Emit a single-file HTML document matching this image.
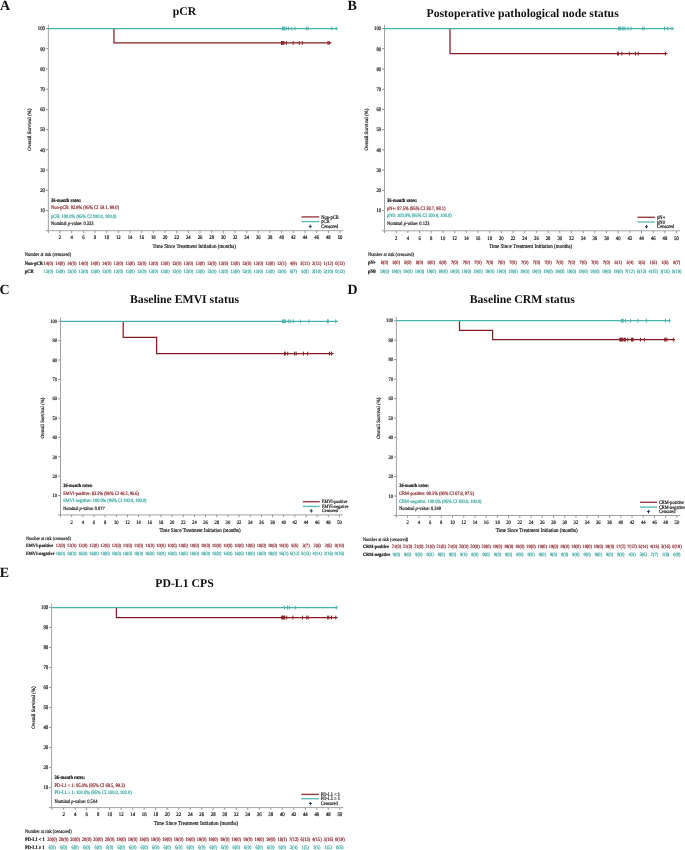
<!DOCTYPE html>
<html><head><meta charset="utf-8"><title>Overall survival</title>
<style>
html,body{margin:0;padding:0;background:#fff;}
body{width:685px;height:850px;overflow:hidden;}
svg{display:block;will-change:transform;}
svg text{font-family:"Liberation Serif", serif;text-rendering:geometricPrecision;}
</style></head>
<body>
<svg width="685" height="850" viewBox="0 0 685 850">
<rect width="685" height="850" fill="#fff"/>
<text x="0" y="9.6" font-size="14" text-anchor="start" font-weight="bold" fill="#111111" stroke="#111111" stroke-width="0">A</text>
<text x="184.6" y="15.2" font-size="11.75" text-anchor="middle" font-weight="bold" fill="#111111" stroke="#111111" stroke-width="0">pCR</text>
<path d="M48.35 24.7V230.7H343.4" fill="none" stroke="#9fa3a7" stroke-width="1"/>
<text transform="translate(44.95 212.27) scale(0.87 1)" font-size="5.43" text-anchor="end" fill="#111111" stroke="#111111" stroke-width="0.18">10</text>
<text transform="translate(44.95 192.05) scale(0.87 1)" font-size="5.43" text-anchor="end" fill="#111111" stroke="#111111" stroke-width="0.18">20</text>
<text transform="translate(44.95 171.83) scale(0.87 1)" font-size="5.43" text-anchor="end" fill="#111111" stroke="#111111" stroke-width="0.18">30</text>
<text transform="translate(44.95 151.61) scale(0.87 1)" font-size="5.43" text-anchor="end" fill="#111111" stroke="#111111" stroke-width="0.18">40</text>
<text transform="translate(44.95 131.39) scale(0.87 1)" font-size="5.43" text-anchor="end" fill="#111111" stroke="#111111" stroke-width="0.18">50</text>
<text transform="translate(44.95 111.17) scale(0.87 1)" font-size="5.43" text-anchor="end" fill="#111111" stroke="#111111" stroke-width="0.18">60</text>
<text transform="translate(44.95 90.95) scale(0.87 1)" font-size="5.43" text-anchor="end" fill="#111111" stroke="#111111" stroke-width="0.18">70</text>
<text transform="translate(44.95 70.73) scale(0.87 1)" font-size="5.43" text-anchor="end" fill="#111111" stroke="#111111" stroke-width="0.18">80</text>
<text transform="translate(44.95 50.51) scale(0.87 1)" font-size="5.43" text-anchor="end" fill="#111111" stroke="#111111" stroke-width="0.18">90</text>
<text transform="translate(44.95 30.29) scale(0.87 1)" font-size="5.43" text-anchor="end" fill="#111111" stroke="#111111" stroke-width="0.18">100</text>
<text transform="translate(60.02 239.49) scale(0.87 1)" font-size="5.43" text-anchor="middle" fill="#111111" stroke="#111111" stroke-width="0.18">2</text>
<text transform="translate(71.68 239.49) scale(0.87 1)" font-size="5.43" text-anchor="middle" fill="#111111" stroke="#111111" stroke-width="0.18">4</text>
<text transform="translate(83.35 239.49) scale(0.87 1)" font-size="5.43" text-anchor="middle" fill="#111111" stroke="#111111" stroke-width="0.18">6</text>
<text transform="translate(95.01 239.49) scale(0.87 1)" font-size="5.43" text-anchor="middle" fill="#111111" stroke="#111111" stroke-width="0.18">8</text>
<text transform="translate(106.68 239.49) scale(0.87 1)" font-size="5.43" text-anchor="middle" fill="#111111" stroke="#111111" stroke-width="0.18">10</text>
<text transform="translate(118.35 239.49) scale(0.87 1)" font-size="5.43" text-anchor="middle" fill="#111111" stroke="#111111" stroke-width="0.18">12</text>
<text transform="translate(130.01 239.49) scale(0.87 1)" font-size="5.43" text-anchor="middle" fill="#111111" stroke="#111111" stroke-width="0.18">14</text>
<text transform="translate(141.68 239.49) scale(0.87 1)" font-size="5.43" text-anchor="middle" fill="#111111" stroke="#111111" stroke-width="0.18">16</text>
<text transform="translate(153.34 239.49) scale(0.87 1)" font-size="5.43" text-anchor="middle" fill="#111111" stroke="#111111" stroke-width="0.18">18</text>
<text transform="translate(165.01 239.49) scale(0.87 1)" font-size="5.43" text-anchor="middle" fill="#111111" stroke="#111111" stroke-width="0.18">20</text>
<text transform="translate(176.68 239.49) scale(0.87 1)" font-size="5.43" text-anchor="middle" fill="#111111" stroke="#111111" stroke-width="0.18">22</text>
<text transform="translate(188.34 239.49) scale(0.87 1)" font-size="5.43" text-anchor="middle" fill="#111111" stroke="#111111" stroke-width="0.18">24</text>
<text transform="translate(200.01 239.49) scale(0.87 1)" font-size="5.43" text-anchor="middle" fill="#111111" stroke="#111111" stroke-width="0.18">26</text>
<text transform="translate(211.67 239.49) scale(0.87 1)" font-size="5.43" text-anchor="middle" fill="#111111" stroke="#111111" stroke-width="0.18">28</text>
<text transform="translate(223.34 239.49) scale(0.87 1)" font-size="5.43" text-anchor="middle" fill="#111111" stroke="#111111" stroke-width="0.18">30</text>
<text transform="translate(235.01 239.49) scale(0.87 1)" font-size="5.43" text-anchor="middle" fill="#111111" stroke="#111111" stroke-width="0.18">32</text>
<text transform="translate(246.67 239.49) scale(0.87 1)" font-size="5.43" text-anchor="middle" fill="#111111" stroke="#111111" stroke-width="0.18">34</text>
<text transform="translate(258.34 239.49) scale(0.87 1)" font-size="5.43" text-anchor="middle" fill="#111111" stroke="#111111" stroke-width="0.18">36</text>
<text transform="translate(270 239.49) scale(0.87 1)" font-size="5.43" text-anchor="middle" fill="#111111" stroke="#111111" stroke-width="0.18">38</text>
<text transform="translate(281.67 239.49) scale(0.87 1)" font-size="5.43" text-anchor="middle" fill="#111111" stroke="#111111" stroke-width="0.18">40</text>
<text transform="translate(293.34 239.49) scale(0.87 1)" font-size="5.43" text-anchor="middle" fill="#111111" stroke="#111111" stroke-width="0.18">42</text>
<text transform="translate(305 239.49) scale(0.87 1)" font-size="5.43" text-anchor="middle" fill="#111111" stroke="#111111" stroke-width="0.18">44</text>
<text transform="translate(316.67 239.49) scale(0.87 1)" font-size="5.43" text-anchor="middle" fill="#111111" stroke="#111111" stroke-width="0.18">46</text>
<text transform="translate(328.33 239.49) scale(0.87 1)" font-size="5.43" text-anchor="middle" fill="#111111" stroke="#111111" stroke-width="0.18">48</text>
<text transform="translate(340 239.49) scale(0.87 1)" font-size="5.43" text-anchor="middle" fill="#111111" stroke="#111111" stroke-width="0.18">50</text>
<path d="M45.85 230.7H48.35M45.85 210.48H48.35M45.85 190.26H48.35M45.85 170.04H48.35M45.85 149.82H48.35M45.85 129.6H48.35M45.85 109.38H48.35M45.85 89.16H48.35M45.85 68.94H48.35M45.85 48.72H48.35M45.85 28.5H48.35M48.35 230.7V233M60.02 230.7V233M71.68 230.7V233M83.35 230.7V233M95.01 230.7V233M106.68 230.7V233M118.35 230.7V233M130.01 230.7V233M141.68 230.7V233M153.34 230.7V233M165.01 230.7V233M176.68 230.7V233M188.34 230.7V233M200.01 230.7V233M211.67 230.7V233M223.34 230.7V233M235.01 230.7V233M246.67 230.7V233M258.34 230.7V233M270 230.7V233M281.67 230.7V233M293.34 230.7V233M305 230.7V233M316.67 230.7V233M328.33 230.7V233M340 230.7V233" stroke="#92969b" stroke-width="1" fill="none"/>
<text transform="translate(194.18 247.71) scale(0.87 1)" font-size="5.78" text-anchor="middle" fill="#111111" stroke="#111111" stroke-width="0.18">Time Since Treatment Initiation (months)</text>
<text x="29.85" y="131.26" font-size="5.02" text-anchor="middle" fill="#111111" stroke="#111111" stroke-width="0.18" transform="rotate(-90 29.85 129.6)">Overall Survival (%)</text>
<path d="M113.95 29.1H113.95V42.94H331.4" fill="none" stroke="#861d23" stroke-width="1.25"/>
<path d="M281.5 41.04V44.84M282.3 41.04V44.84M283.1 41.04V44.84M284 41.04V44.84M286.4 41.04V44.84M293.2 41.04V44.84M299.3 41.04V44.84M302.3 41.04V44.84M328 41.04V44.84M329.2 41.04V44.84" stroke="#861d23" stroke-width="1.0" fill="none"/>
<path d="M48.35 28.5H337.9" fill="none" stroke="#47b2ad" stroke-width="1.25"/>
<path d="M282.4 26.6V30.4M283.1 26.6V30.4M284 26.6V30.4M284.8 26.6V30.4M286.4 26.6V30.4M288.6 26.6V30.4M291.9 26.6V30.4M295 26.6V30.4M306.4 26.6V30.4M308.1 26.6V30.4M331.9 26.6V30.4M336.2 26.6V30.4" stroke="#47b2ad" stroke-width="1.0" fill="none"/>
<text transform="translate(51 201.5) scale(0.87 1)" font-size="5.14" text-anchor="start" font-weight="bold" fill="#111111" stroke="#111111" stroke-width="0.18">36-month rates:</text>
<text transform="translate(51 209.3) scale(0.87 1)" font-size="5.14" text-anchor="start" fill="#861d23" stroke="#861d23" stroke-width="0.18">Non-pCR: 92.9% (95% CI 59.1, 99.0)</text>
<text transform="translate(51 217.7) scale(0.87 1)" font-size="5.14" text-anchor="start" fill="#2fa39e" stroke="#2fa39e" stroke-width="0.18">pCR: 100.0% (95% CI 100.0, 100.0)</text>
<text transform="translate(51 225.3) scale(0.87 1)" font-size="5.14" text-anchor="start" fill="#111111" stroke="#111111" stroke-width="0.18">Nominal <tspan font-style="italic">p</tspan>-value: 0.333</text>
<path d="M301.5 216.9H319.3" stroke="#861d23" stroke-width="1.4" stroke-opacity="0.85"/>
<path d="M301.5 221.6H319.3" stroke="#47b2ad" stroke-width="1.4" stroke-opacity="0.85"/>
<path d="M308.8 226.4H311.8M310.3 224.7V228.1" stroke="#1f3b6b" stroke-width="1.0"/>
<text transform="translate(321.2 218.63) scale(0.87 1)" font-size="5.23" text-anchor="start" fill="#111111" stroke="#111111" stroke-width="0.18">Non-pCR</text>
<text transform="translate(321.2 223.33) scale(0.87 1)" font-size="5.23" text-anchor="start" fill="#111111" stroke="#111111" stroke-width="0.18">pCR</text>
<text transform="translate(321.2 228.13) scale(0.87 1)" font-size="5.23" text-anchor="start" fill="#111111" stroke="#111111" stroke-width="0.18">Censored</text>
<text transform="translate(24.8 256.48) scale(0.87 1)" font-size="5.09" text-anchor="start" fill="#111111" stroke="#111111" stroke-width="0.16">Number at risk (censored)</text>
<text transform="translate(24.8 264.68) scale(0.87 1)" font-size="5.09" text-anchor="start" font-weight="bold" fill="#111111" stroke="#111111" stroke-width="0.18">Non-pCR</text>
<text transform="translate(24.8 272.68) scale(0.87 1)" font-size="5.09" text-anchor="start" font-weight="bold" fill="#111111" stroke="#111111" stroke-width="0.18">pCR</text>
<text transform="translate(48.35 264.68) scale(0.87 1)" font-size="5.09" text-anchor="middle" fill="#861d23" stroke="#861d23" stroke-width="0.18">14(0)</text>
<text transform="translate(48.35 272.68) scale(0.87 1)" font-size="5.09" text-anchor="middle" fill="#2fa39e" stroke="#2fa39e" stroke-width="0.18">13(0)</text>
<text transform="translate(60.02 264.68) scale(0.87 1)" font-size="5.09" text-anchor="middle" fill="#861d23" stroke="#861d23" stroke-width="0.18">14(0)</text>
<text transform="translate(60.02 272.68) scale(0.87 1)" font-size="5.09" text-anchor="middle" fill="#2fa39e" stroke="#2fa39e" stroke-width="0.18">13(0)</text>
<text transform="translate(71.68 264.68) scale(0.87 1)" font-size="5.09" text-anchor="middle" fill="#861d23" stroke="#861d23" stroke-width="0.18">14(0)</text>
<text transform="translate(71.68 272.68) scale(0.87 1)" font-size="5.09" text-anchor="middle" fill="#2fa39e" stroke="#2fa39e" stroke-width="0.18">13(0)</text>
<text transform="translate(83.35 264.68) scale(0.87 1)" font-size="5.09" text-anchor="middle" fill="#861d23" stroke="#861d23" stroke-width="0.18">14(0)</text>
<text transform="translate(83.35 272.68) scale(0.87 1)" font-size="5.09" text-anchor="middle" fill="#2fa39e" stroke="#2fa39e" stroke-width="0.18">13(0)</text>
<text transform="translate(95.01 264.68) scale(0.87 1)" font-size="5.09" text-anchor="middle" fill="#861d23" stroke="#861d23" stroke-width="0.18">14(0)</text>
<text transform="translate(95.01 272.68) scale(0.87 1)" font-size="5.09" text-anchor="middle" fill="#2fa39e" stroke="#2fa39e" stroke-width="0.18">13(0)</text>
<text transform="translate(106.68 264.68) scale(0.87 1)" font-size="5.09" text-anchor="middle" fill="#861d23" stroke="#861d23" stroke-width="0.18">14(0)</text>
<text transform="translate(106.68 272.68) scale(0.87 1)" font-size="5.09" text-anchor="middle" fill="#2fa39e" stroke="#2fa39e" stroke-width="0.18">13(0)</text>
<text transform="translate(118.35 264.68) scale(0.87 1)" font-size="5.09" text-anchor="middle" fill="#861d23" stroke="#861d23" stroke-width="0.18">13(0)</text>
<text transform="translate(118.35 272.68) scale(0.87 1)" font-size="5.09" text-anchor="middle" fill="#2fa39e" stroke="#2fa39e" stroke-width="0.18">13(0)</text>
<text transform="translate(130.01 264.68) scale(0.87 1)" font-size="5.09" text-anchor="middle" fill="#861d23" stroke="#861d23" stroke-width="0.18">13(0)</text>
<text transform="translate(130.01 272.68) scale(0.87 1)" font-size="5.09" text-anchor="middle" fill="#2fa39e" stroke="#2fa39e" stroke-width="0.18">13(0)</text>
<text transform="translate(141.68 264.68) scale(0.87 1)" font-size="5.09" text-anchor="middle" fill="#861d23" stroke="#861d23" stroke-width="0.18">13(0)</text>
<text transform="translate(141.68 272.68) scale(0.87 1)" font-size="5.09" text-anchor="middle" fill="#2fa39e" stroke="#2fa39e" stroke-width="0.18">13(0)</text>
<text transform="translate(153.34 264.68) scale(0.87 1)" font-size="5.09" text-anchor="middle" fill="#861d23" stroke="#861d23" stroke-width="0.18">13(0)</text>
<text transform="translate(153.34 272.68) scale(0.87 1)" font-size="5.09" text-anchor="middle" fill="#2fa39e" stroke="#2fa39e" stroke-width="0.18">13(0)</text>
<text transform="translate(165.01 264.68) scale(0.87 1)" font-size="5.09" text-anchor="middle" fill="#861d23" stroke="#861d23" stroke-width="0.18">13(0)</text>
<text transform="translate(165.01 272.68) scale(0.87 1)" font-size="5.09" text-anchor="middle" fill="#2fa39e" stroke="#2fa39e" stroke-width="0.18">13(0)</text>
<text transform="translate(176.68 264.68) scale(0.87 1)" font-size="5.09" text-anchor="middle" fill="#861d23" stroke="#861d23" stroke-width="0.18">13(0)</text>
<text transform="translate(176.68 272.68) scale(0.87 1)" font-size="5.09" text-anchor="middle" fill="#2fa39e" stroke="#2fa39e" stroke-width="0.18">13(0)</text>
<text transform="translate(188.34 264.68) scale(0.87 1)" font-size="5.09" text-anchor="middle" fill="#861d23" stroke="#861d23" stroke-width="0.18">13(0)</text>
<text transform="translate(188.34 272.68) scale(0.87 1)" font-size="5.09" text-anchor="middle" fill="#2fa39e" stroke="#2fa39e" stroke-width="0.18">13(0)</text>
<text transform="translate(200.01 264.68) scale(0.87 1)" font-size="5.09" text-anchor="middle" fill="#861d23" stroke="#861d23" stroke-width="0.18">13(0)</text>
<text transform="translate(200.01 272.68) scale(0.87 1)" font-size="5.09" text-anchor="middle" fill="#2fa39e" stroke="#2fa39e" stroke-width="0.18">13(0)</text>
<text transform="translate(211.67 264.68) scale(0.87 1)" font-size="5.09" text-anchor="middle" fill="#861d23" stroke="#861d23" stroke-width="0.18">13(0)</text>
<text transform="translate(211.67 272.68) scale(0.87 1)" font-size="5.09" text-anchor="middle" fill="#2fa39e" stroke="#2fa39e" stroke-width="0.18">13(0)</text>
<text transform="translate(223.34 264.68) scale(0.87 1)" font-size="5.09" text-anchor="middle" fill="#861d23" stroke="#861d23" stroke-width="0.18">13(0)</text>
<text transform="translate(223.34 272.68) scale(0.87 1)" font-size="5.09" text-anchor="middle" fill="#2fa39e" stroke="#2fa39e" stroke-width="0.18">13(0)</text>
<text transform="translate(235.01 264.68) scale(0.87 1)" font-size="5.09" text-anchor="middle" fill="#861d23" stroke="#861d23" stroke-width="0.18">13(0)</text>
<text transform="translate(235.01 272.68) scale(0.87 1)" font-size="5.09" text-anchor="middle" fill="#2fa39e" stroke="#2fa39e" stroke-width="0.18">13(0)</text>
<text transform="translate(246.67 264.68) scale(0.87 1)" font-size="5.09" text-anchor="middle" fill="#861d23" stroke="#861d23" stroke-width="0.18">13(0)</text>
<text transform="translate(246.67 272.68) scale(0.87 1)" font-size="5.09" text-anchor="middle" fill="#2fa39e" stroke="#2fa39e" stroke-width="0.18">13(0)</text>
<text transform="translate(258.34 264.68) scale(0.87 1)" font-size="5.09" text-anchor="middle" fill="#861d23" stroke="#861d23" stroke-width="0.18">13(0)</text>
<text transform="translate(258.34 272.68) scale(0.87 1)" font-size="5.09" text-anchor="middle" fill="#2fa39e" stroke="#2fa39e" stroke-width="0.18">13(0)</text>
<text transform="translate(270 264.68) scale(0.87 1)" font-size="5.09" text-anchor="middle" fill="#861d23" stroke="#861d23" stroke-width="0.18">13(0)</text>
<text transform="translate(270 272.68) scale(0.87 1)" font-size="5.09" text-anchor="middle" fill="#2fa39e" stroke="#2fa39e" stroke-width="0.18">13(0)</text>
<text transform="translate(281.67 264.68) scale(0.87 1)" font-size="5.09" text-anchor="middle" fill="#861d23" stroke="#861d23" stroke-width="0.18">12(1)</text>
<text transform="translate(281.67 272.68) scale(0.87 1)" font-size="5.09" text-anchor="middle" fill="#2fa39e" stroke="#2fa39e" stroke-width="0.18">13(0)</text>
<text transform="translate(293.34 264.68) scale(0.87 1)" font-size="5.09" text-anchor="middle" fill="#861d23" stroke="#861d23" stroke-width="0.18">4(9)</text>
<text transform="translate(293.34 272.68) scale(0.87 1)" font-size="5.09" text-anchor="middle" fill="#2fa39e" stroke="#2fa39e" stroke-width="0.18">6(7)</text>
<text transform="translate(305 264.68) scale(0.87 1)" font-size="5.09" text-anchor="middle" fill="#861d23" stroke="#861d23" stroke-width="0.18">3(11)</text>
<text transform="translate(305 272.68) scale(0.87 1)" font-size="5.09" text-anchor="middle" fill="#2fa39e" stroke="#2fa39e" stroke-width="0.18">5(8)</text>
<text transform="translate(316.67 264.68) scale(0.87 1)" font-size="5.09" text-anchor="middle" fill="#861d23" stroke="#861d23" stroke-width="0.18">2(11)</text>
<text transform="translate(316.67 272.68) scale(0.87 1)" font-size="5.09" text-anchor="middle" fill="#2fa39e" stroke="#2fa39e" stroke-width="0.18">3(10)</text>
<text transform="translate(328.33 264.68) scale(0.87 1)" font-size="5.09" text-anchor="middle" fill="#861d23" stroke="#861d23" stroke-width="0.18">1(12)</text>
<text transform="translate(328.33 272.68) scale(0.87 1)" font-size="5.09" text-anchor="middle" fill="#2fa39e" stroke="#2fa39e" stroke-width="0.18">3(10)</text>
<text transform="translate(340 264.68) scale(0.87 1)" font-size="5.09" text-anchor="middle" fill="#861d23" stroke="#861d23" stroke-width="0.18">0(13)</text>
<text transform="translate(340 272.68) scale(0.87 1)" font-size="5.09" text-anchor="middle" fill="#2fa39e" stroke="#2fa39e" stroke-width="0.18">0(13)</text>
<text x="347.6" y="9.6" font-size="14" text-anchor="start" font-weight="bold" fill="#111111" stroke="#111111" stroke-width="0">B</text>
<text x="522.6" y="17" font-size="11.75" text-anchor="middle" font-weight="bold" fill="#111111" stroke="#111111" stroke-width="0">Postoperative pathological node status</text>
<path d="M384.5 24.7V230.8H680" fill="none" stroke="#9fa3a7" stroke-width="1"/>
<text transform="translate(381.1 212.35) scale(0.87 1)" font-size="5.4" text-anchor="end" fill="#111111" stroke="#111111" stroke-width="0.18">10</text>
<text transform="translate(381.1 192.12) scale(0.87 1)" font-size="5.4" text-anchor="end" fill="#111111" stroke="#111111" stroke-width="0.18">20</text>
<text transform="translate(381.1 171.89) scale(0.87 1)" font-size="5.4" text-anchor="end" fill="#111111" stroke="#111111" stroke-width="0.18">30</text>
<text transform="translate(381.1 151.66) scale(0.87 1)" font-size="5.4" text-anchor="end" fill="#111111" stroke="#111111" stroke-width="0.18">40</text>
<text transform="translate(381.1 131.43) scale(0.87 1)" font-size="5.4" text-anchor="end" fill="#111111" stroke="#111111" stroke-width="0.18">50</text>
<text transform="translate(381.1 111.2) scale(0.87 1)" font-size="5.4" text-anchor="end" fill="#111111" stroke="#111111" stroke-width="0.18">60</text>
<text transform="translate(381.1 90.97) scale(0.87 1)" font-size="5.4" text-anchor="end" fill="#111111" stroke="#111111" stroke-width="0.18">70</text>
<text transform="translate(381.1 70.74) scale(0.87 1)" font-size="5.4" text-anchor="end" fill="#111111" stroke="#111111" stroke-width="0.18">80</text>
<text transform="translate(381.1 50.51) scale(0.87 1)" font-size="5.4" text-anchor="end" fill="#111111" stroke="#111111" stroke-width="0.18">90</text>
<text transform="translate(381.1 30.28) scale(0.87 1)" font-size="5.4" text-anchor="end" fill="#111111" stroke="#111111" stroke-width="0.18">100</text>
<text transform="translate(396.18 239.58) scale(0.87 1)" font-size="5.4" text-anchor="middle" fill="#111111" stroke="#111111" stroke-width="0.18">2</text>
<text transform="translate(407.87 239.58) scale(0.87 1)" font-size="5.4" text-anchor="middle" fill="#111111" stroke="#111111" stroke-width="0.18">4</text>
<text transform="translate(419.55 239.58) scale(0.87 1)" font-size="5.4" text-anchor="middle" fill="#111111" stroke="#111111" stroke-width="0.18">6</text>
<text transform="translate(431.24 239.58) scale(0.87 1)" font-size="5.4" text-anchor="middle" fill="#111111" stroke="#111111" stroke-width="0.18">8</text>
<text transform="translate(442.92 239.58) scale(0.87 1)" font-size="5.4" text-anchor="middle" fill="#111111" stroke="#111111" stroke-width="0.18">10</text>
<text transform="translate(454.6 239.58) scale(0.87 1)" font-size="5.4" text-anchor="middle" fill="#111111" stroke="#111111" stroke-width="0.18">12</text>
<text transform="translate(466.29 239.58) scale(0.87 1)" font-size="5.4" text-anchor="middle" fill="#111111" stroke="#111111" stroke-width="0.18">14</text>
<text transform="translate(477.97 239.58) scale(0.87 1)" font-size="5.4" text-anchor="middle" fill="#111111" stroke="#111111" stroke-width="0.18">16</text>
<text transform="translate(489.66 239.58) scale(0.87 1)" font-size="5.4" text-anchor="middle" fill="#111111" stroke="#111111" stroke-width="0.18">18</text>
<text transform="translate(501.34 239.58) scale(0.87 1)" font-size="5.4" text-anchor="middle" fill="#111111" stroke="#111111" stroke-width="0.18">20</text>
<text transform="translate(513.02 239.58) scale(0.87 1)" font-size="5.4" text-anchor="middle" fill="#111111" stroke="#111111" stroke-width="0.18">22</text>
<text transform="translate(524.71 239.58) scale(0.87 1)" font-size="5.4" text-anchor="middle" fill="#111111" stroke="#111111" stroke-width="0.18">24</text>
<text transform="translate(536.39 239.58) scale(0.87 1)" font-size="5.4" text-anchor="middle" fill="#111111" stroke="#111111" stroke-width="0.18">26</text>
<text transform="translate(548.08 239.58) scale(0.87 1)" font-size="5.4" text-anchor="middle" fill="#111111" stroke="#111111" stroke-width="0.18">28</text>
<text transform="translate(559.76 239.58) scale(0.87 1)" font-size="5.4" text-anchor="middle" fill="#111111" stroke="#111111" stroke-width="0.18">30</text>
<text transform="translate(571.44 239.58) scale(0.87 1)" font-size="5.4" text-anchor="middle" fill="#111111" stroke="#111111" stroke-width="0.18">32</text>
<text transform="translate(583.13 239.58) scale(0.87 1)" font-size="5.4" text-anchor="middle" fill="#111111" stroke="#111111" stroke-width="0.18">34</text>
<text transform="translate(594.81 239.58) scale(0.87 1)" font-size="5.4" text-anchor="middle" fill="#111111" stroke="#111111" stroke-width="0.18">36</text>
<text transform="translate(606.5 239.58) scale(0.87 1)" font-size="5.4" text-anchor="middle" fill="#111111" stroke="#111111" stroke-width="0.18">38</text>
<text transform="translate(618.18 239.58) scale(0.87 1)" font-size="5.4" text-anchor="middle" fill="#111111" stroke="#111111" stroke-width="0.18">40</text>
<text transform="translate(629.86 239.58) scale(0.87 1)" font-size="5.4" text-anchor="middle" fill="#111111" stroke="#111111" stroke-width="0.18">42</text>
<text transform="translate(641.55 239.58) scale(0.87 1)" font-size="5.4" text-anchor="middle" fill="#111111" stroke="#111111" stroke-width="0.18">44</text>
<text transform="translate(653.23 239.58) scale(0.87 1)" font-size="5.4" text-anchor="middle" fill="#111111" stroke="#111111" stroke-width="0.18">46</text>
<text transform="translate(664.92 239.58) scale(0.87 1)" font-size="5.4" text-anchor="middle" fill="#111111" stroke="#111111" stroke-width="0.18">48</text>
<text transform="translate(676.6 239.58) scale(0.87 1)" font-size="5.4" text-anchor="middle" fill="#111111" stroke="#111111" stroke-width="0.18">50</text>
<path d="M382 230.8H384.5M382 210.57H384.5M382 190.34H384.5M382 170.11H384.5M382 149.88H384.5M382 129.65H384.5M382 109.42H384.5M382 89.19H384.5M382 68.96H384.5M382 48.73H384.5M382 28.5H384.5M384.5 230.8V233.1M396.18 230.8V233.1M407.87 230.8V233.1M419.55 230.8V233.1M431.24 230.8V233.1M442.92 230.8V233.1M454.6 230.8V233.1M466.29 230.8V233.1M477.97 230.8V233.1M489.66 230.8V233.1M501.34 230.8V233.1M513.02 230.8V233.1M524.71 230.8V233.1M536.39 230.8V233.1M548.08 230.8V233.1M559.76 230.8V233.1M571.44 230.8V233.1M583.13 230.8V233.1M594.81 230.8V233.1M606.5 230.8V233.1M618.18 230.8V233.1M629.86 230.8V233.1M641.55 230.8V233.1M653.23 230.8V233.1M664.92 230.8V233.1M676.6 230.8V233.1" stroke="#92969b" stroke-width="1" fill="none"/>
<text transform="translate(530.55 247.8) scale(0.87 1)" font-size="5.75" text-anchor="middle" fill="#111111" stroke="#111111" stroke-width="0.18">Time Since Treatment Initiation (months)</text>
<text x="366" y="131.3" font-size="5" text-anchor="middle" fill="#111111" stroke="#111111" stroke-width="0.18" transform="rotate(-90 366 129.65)">Overall Survival (%)</text>
<path d="M450 29.1H450V53.59H667.4" fill="none" stroke="#861d23" stroke-width="1.25"/>
<path d="M617.6 51.69V55.49M618.4 51.69V55.49M621.8 51.69V55.49M629.3 51.69V55.49M635.4 51.69V55.49M638.2 51.69V55.49M665.4 51.69V55.49" stroke="#861d23" stroke-width="1.0" fill="none"/>
<path d="M384.5 28.5H674" fill="none" stroke="#47b2ad" stroke-width="1.25"/>
<path d="M618.7 26.6V30.4M619.6 26.6V30.4M620.3 26.6V30.4M622.3 26.6V30.4M623.8 26.6V30.4M624.9 26.6V30.4M628 26.6V30.4M631 26.6V30.4M642.6 26.6V30.4M644.2 26.6V30.4M664.5 26.6V30.4M667.7 26.6V30.4M672 26.6V30.4" stroke="#47b2ad" stroke-width="1.0" fill="none"/>
<text transform="translate(387 201.69) scale(0.87 1)" font-size="5.12" text-anchor="start" font-weight="bold" fill="#111111" stroke="#111111" stroke-width="0.18">36-month rates:</text>
<text transform="translate(387 209.69) scale(0.87 1)" font-size="5.12" text-anchor="start" fill="#861d23" stroke="#861d23" stroke-width="0.18">pN+: 87.5% (95% CI 38.7, 98.1)</text>
<text transform="translate(387 217.29) scale(0.87 1)" font-size="5.12" text-anchor="start" fill="#2fa39e" stroke="#2fa39e" stroke-width="0.18">pN0: 100.0% (95% CI 100.0, 100.0)</text>
<text transform="translate(387 225.29) scale(0.87 1)" font-size="5.12" text-anchor="start" fill="#111111" stroke="#111111" stroke-width="0.18">Nominal <tspan font-style="italic">p</tspan>-value: 0.123</text>
<path d="M637.4 217.3H654.9" stroke="#861d23" stroke-width="1.4" stroke-opacity="0.85"/>
<path d="M637.4 222H654.9" stroke="#47b2ad" stroke-width="1.4" stroke-opacity="0.85"/>
<path d="M645 226.7H648M646.5 225V228.4" stroke="#1f3b6b" stroke-width="1.0"/>
<text transform="translate(657.1 219.03) scale(0.87 1)" font-size="5.23" text-anchor="start" fill="#111111" stroke="#111111" stroke-width="0.18">pN+</text>
<text transform="translate(657.1 223.73) scale(0.87 1)" font-size="5.23" text-anchor="start" fill="#111111" stroke="#111111" stroke-width="0.18">pN0</text>
<text transform="translate(657.1 228.43) scale(0.87 1)" font-size="5.23" text-anchor="start" fill="#111111" stroke="#111111" stroke-width="0.18">Censored</text>
<text transform="translate(368 256.47) scale(0.87 1)" font-size="5.06" text-anchor="start" fill="#111111" stroke="#111111" stroke-width="0.16">Number at risk (censored)</text>
<text transform="translate(368 264.37) scale(0.87 1)" font-size="5.06" text-anchor="start" font-weight="bold" fill="#111111" stroke="#111111" stroke-width="0.18">pN+</text>
<text transform="translate(368 272.67) scale(0.87 1)" font-size="5.06" text-anchor="start" font-weight="bold" fill="#111111" stroke="#111111" stroke-width="0.18">pN0</text>
<text transform="translate(384.5 264.37) scale(0.87 1)" font-size="5.06" text-anchor="middle" fill="#861d23" stroke="#861d23" stroke-width="0.18">8(0)</text>
<text transform="translate(384.5 272.67) scale(0.87 1)" font-size="5.06" text-anchor="middle" fill="#2fa39e" stroke="#2fa39e" stroke-width="0.18">19(0)</text>
<text transform="translate(396.18 264.37) scale(0.87 1)" font-size="5.06" text-anchor="middle" fill="#861d23" stroke="#861d23" stroke-width="0.18">8(0)</text>
<text transform="translate(396.18 272.67) scale(0.87 1)" font-size="5.06" text-anchor="middle" fill="#2fa39e" stroke="#2fa39e" stroke-width="0.18">19(0)</text>
<text transform="translate(407.87 264.37) scale(0.87 1)" font-size="5.06" text-anchor="middle" fill="#861d23" stroke="#861d23" stroke-width="0.18">8(0)</text>
<text transform="translate(407.87 272.67) scale(0.87 1)" font-size="5.06" text-anchor="middle" fill="#2fa39e" stroke="#2fa39e" stroke-width="0.18">19(0)</text>
<text transform="translate(419.55 264.37) scale(0.87 1)" font-size="5.06" text-anchor="middle" fill="#861d23" stroke="#861d23" stroke-width="0.18">8(0)</text>
<text transform="translate(419.55 272.67) scale(0.87 1)" font-size="5.06" text-anchor="middle" fill="#2fa39e" stroke="#2fa39e" stroke-width="0.18">19(0)</text>
<text transform="translate(431.24 264.37) scale(0.87 1)" font-size="5.06" text-anchor="middle" fill="#861d23" stroke="#861d23" stroke-width="0.18">8(0)</text>
<text transform="translate(431.24 272.67) scale(0.87 1)" font-size="5.06" text-anchor="middle" fill="#2fa39e" stroke="#2fa39e" stroke-width="0.18">19(0)</text>
<text transform="translate(442.92 264.37) scale(0.87 1)" font-size="5.06" text-anchor="middle" fill="#861d23" stroke="#861d23" stroke-width="0.18">8(0)</text>
<text transform="translate(442.92 272.67) scale(0.87 1)" font-size="5.06" text-anchor="middle" fill="#2fa39e" stroke="#2fa39e" stroke-width="0.18">19(0)</text>
<text transform="translate(454.6 264.37) scale(0.87 1)" font-size="5.06" text-anchor="middle" fill="#861d23" stroke="#861d23" stroke-width="0.18">7(0)</text>
<text transform="translate(454.6 272.67) scale(0.87 1)" font-size="5.06" text-anchor="middle" fill="#2fa39e" stroke="#2fa39e" stroke-width="0.18">19(0)</text>
<text transform="translate(466.29 264.37) scale(0.87 1)" font-size="5.06" text-anchor="middle" fill="#861d23" stroke="#861d23" stroke-width="0.18">7(0)</text>
<text transform="translate(466.29 272.67) scale(0.87 1)" font-size="5.06" text-anchor="middle" fill="#2fa39e" stroke="#2fa39e" stroke-width="0.18">19(0)</text>
<text transform="translate(477.97 264.37) scale(0.87 1)" font-size="5.06" text-anchor="middle" fill="#861d23" stroke="#861d23" stroke-width="0.18">7(0)</text>
<text transform="translate(477.97 272.67) scale(0.87 1)" font-size="5.06" text-anchor="middle" fill="#2fa39e" stroke="#2fa39e" stroke-width="0.18">19(0)</text>
<text transform="translate(489.66 264.37) scale(0.87 1)" font-size="5.06" text-anchor="middle" fill="#861d23" stroke="#861d23" stroke-width="0.18">7(0)</text>
<text transform="translate(489.66 272.67) scale(0.87 1)" font-size="5.06" text-anchor="middle" fill="#2fa39e" stroke="#2fa39e" stroke-width="0.18">19(0)</text>
<text transform="translate(501.34 264.37) scale(0.87 1)" font-size="5.06" text-anchor="middle" fill="#861d23" stroke="#861d23" stroke-width="0.18">7(0)</text>
<text transform="translate(501.34 272.67) scale(0.87 1)" font-size="5.06" text-anchor="middle" fill="#2fa39e" stroke="#2fa39e" stroke-width="0.18">19(0)</text>
<text transform="translate(513.02 264.37) scale(0.87 1)" font-size="5.06" text-anchor="middle" fill="#861d23" stroke="#861d23" stroke-width="0.18">7(0)</text>
<text transform="translate(513.02 272.67) scale(0.87 1)" font-size="5.06" text-anchor="middle" fill="#2fa39e" stroke="#2fa39e" stroke-width="0.18">19(0)</text>
<text transform="translate(524.71 264.37) scale(0.87 1)" font-size="5.06" text-anchor="middle" fill="#861d23" stroke="#861d23" stroke-width="0.18">7(0)</text>
<text transform="translate(524.71 272.67) scale(0.87 1)" font-size="5.06" text-anchor="middle" fill="#2fa39e" stroke="#2fa39e" stroke-width="0.18">19(0)</text>
<text transform="translate(536.39 264.37) scale(0.87 1)" font-size="5.06" text-anchor="middle" fill="#861d23" stroke="#861d23" stroke-width="0.18">7(0)</text>
<text transform="translate(536.39 272.67) scale(0.87 1)" font-size="5.06" text-anchor="middle" fill="#2fa39e" stroke="#2fa39e" stroke-width="0.18">19(0)</text>
<text transform="translate(548.08 264.37) scale(0.87 1)" font-size="5.06" text-anchor="middle" fill="#861d23" stroke="#861d23" stroke-width="0.18">7(0)</text>
<text transform="translate(548.08 272.67) scale(0.87 1)" font-size="5.06" text-anchor="middle" fill="#2fa39e" stroke="#2fa39e" stroke-width="0.18">19(0)</text>
<text transform="translate(559.76 264.37) scale(0.87 1)" font-size="5.06" text-anchor="middle" fill="#861d23" stroke="#861d23" stroke-width="0.18">7(0)</text>
<text transform="translate(559.76 272.67) scale(0.87 1)" font-size="5.06" text-anchor="middle" fill="#2fa39e" stroke="#2fa39e" stroke-width="0.18">19(0)</text>
<text transform="translate(571.44 264.37) scale(0.87 1)" font-size="5.06" text-anchor="middle" fill="#861d23" stroke="#861d23" stroke-width="0.18">7(0)</text>
<text transform="translate(571.44 272.67) scale(0.87 1)" font-size="5.06" text-anchor="middle" fill="#2fa39e" stroke="#2fa39e" stroke-width="0.18">19(0)</text>
<text transform="translate(583.13 264.37) scale(0.87 1)" font-size="5.06" text-anchor="middle" fill="#861d23" stroke="#861d23" stroke-width="0.18">7(0)</text>
<text transform="translate(583.13 272.67) scale(0.87 1)" font-size="5.06" text-anchor="middle" fill="#2fa39e" stroke="#2fa39e" stroke-width="0.18">19(0)</text>
<text transform="translate(594.81 264.37) scale(0.87 1)" font-size="5.06" text-anchor="middle" fill="#861d23" stroke="#861d23" stroke-width="0.18">7(0)</text>
<text transform="translate(594.81 272.67) scale(0.87 1)" font-size="5.06" text-anchor="middle" fill="#2fa39e" stroke="#2fa39e" stroke-width="0.18">19(0)</text>
<text transform="translate(606.5 264.37) scale(0.87 1)" font-size="5.06" text-anchor="middle" fill="#861d23" stroke="#861d23" stroke-width="0.18">7(0)</text>
<text transform="translate(606.5 272.67) scale(0.87 1)" font-size="5.06" text-anchor="middle" fill="#2fa39e" stroke="#2fa39e" stroke-width="0.18">19(0)</text>
<text transform="translate(618.18 264.37) scale(0.87 1)" font-size="5.06" text-anchor="middle" fill="#861d23" stroke="#861d23" stroke-width="0.18">6(1)</text>
<text transform="translate(618.18 272.67) scale(0.87 1)" font-size="5.06" text-anchor="middle" fill="#2fa39e" stroke="#2fa39e" stroke-width="0.18">19(0)</text>
<text transform="translate(629.86 264.37) scale(0.87 1)" font-size="5.06" text-anchor="middle" fill="#861d23" stroke="#861d23" stroke-width="0.18">3(4)</text>
<text transform="translate(629.86 272.67) scale(0.87 1)" font-size="5.06" text-anchor="middle" fill="#2fa39e" stroke="#2fa39e" stroke-width="0.18">7(12)</text>
<text transform="translate(641.55 264.37) scale(0.87 1)" font-size="5.06" text-anchor="middle" fill="#861d23" stroke="#861d23" stroke-width="0.18">1(6)</text>
<text transform="translate(641.55 272.67) scale(0.87 1)" font-size="5.06" text-anchor="middle" fill="#2fa39e" stroke="#2fa39e" stroke-width="0.18">6(13)</text>
<text transform="translate(653.23 264.37) scale(0.87 1)" font-size="5.06" text-anchor="middle" fill="#861d23" stroke="#861d23" stroke-width="0.18">1(6)</text>
<text transform="translate(653.23 272.67) scale(0.87 1)" font-size="5.06" text-anchor="middle" fill="#2fa39e" stroke="#2fa39e" stroke-width="0.18">4(15)</text>
<text transform="translate(664.92 264.37) scale(0.87 1)" font-size="5.06" text-anchor="middle" fill="#861d23" stroke="#861d23" stroke-width="0.18">1(6)</text>
<text transform="translate(664.92 272.67) scale(0.87 1)" font-size="5.06" text-anchor="middle" fill="#2fa39e" stroke="#2fa39e" stroke-width="0.18">3(16)</text>
<text transform="translate(676.6 264.37) scale(0.87 1)" font-size="5.06" text-anchor="middle" fill="#861d23" stroke="#861d23" stroke-width="0.18">0(7)</text>
<text transform="translate(676.6 272.67) scale(0.87 1)" font-size="5.06" text-anchor="middle" fill="#2fa39e" stroke="#2fa39e" stroke-width="0.18">0(19)</text>
<text x="-0.4" y="293.8" font-size="14" text-anchor="start" font-weight="bold" fill="#111111" stroke="#111111" stroke-width="0">C</text>
<text x="184.5" y="303" font-size="11.75" text-anchor="middle" font-weight="bold" fill="#111111" stroke="#111111" stroke-width="0">Baseline EMVI status</text>
<path d="M60.5 317.5V514.9H342.9" fill="none" stroke="#9fa3a7" stroke-width="1"/>
<text transform="translate(57.1 497.28) scale(0.87 1)" font-size="5.29" text-anchor="end" fill="#111111" stroke="#111111" stroke-width="0.18">10</text>
<text transform="translate(57.1 477.92) scale(0.87 1)" font-size="5.29" text-anchor="end" fill="#111111" stroke="#111111" stroke-width="0.18">20</text>
<text transform="translate(57.1 458.56) scale(0.87 1)" font-size="5.29" text-anchor="end" fill="#111111" stroke="#111111" stroke-width="0.18">30</text>
<text transform="translate(57.1 439.2) scale(0.87 1)" font-size="5.29" text-anchor="end" fill="#111111" stroke="#111111" stroke-width="0.18">40</text>
<text transform="translate(57.1 419.84) scale(0.87 1)" font-size="5.29" text-anchor="end" fill="#111111" stroke="#111111" stroke-width="0.18">50</text>
<text transform="translate(57.1 400.48) scale(0.87 1)" font-size="5.29" text-anchor="end" fill="#111111" stroke="#111111" stroke-width="0.18">60</text>
<text transform="translate(57.1 381.12) scale(0.87 1)" font-size="5.29" text-anchor="end" fill="#111111" stroke="#111111" stroke-width="0.18">70</text>
<text transform="translate(57.1 361.76) scale(0.87 1)" font-size="5.29" text-anchor="end" fill="#111111" stroke="#111111" stroke-width="0.18">80</text>
<text transform="translate(57.1 342.4) scale(0.87 1)" font-size="5.29" text-anchor="end" fill="#111111" stroke="#111111" stroke-width="0.18">90</text>
<text transform="translate(57.1 323.04) scale(0.87 1)" font-size="5.29" text-anchor="end" fill="#111111" stroke="#111111" stroke-width="0.18">100</text>
<text transform="translate(71.66 523.64) scale(0.87 1)" font-size="5.29" text-anchor="middle" fill="#111111" stroke="#111111" stroke-width="0.18">2</text>
<text transform="translate(82.82 523.64) scale(0.87 1)" font-size="5.29" text-anchor="middle" fill="#111111" stroke="#111111" stroke-width="0.18">4</text>
<text transform="translate(93.98 523.64) scale(0.87 1)" font-size="5.29" text-anchor="middle" fill="#111111" stroke="#111111" stroke-width="0.18">6</text>
<text transform="translate(105.14 523.64) scale(0.87 1)" font-size="5.29" text-anchor="middle" fill="#111111" stroke="#111111" stroke-width="0.18">8</text>
<text transform="translate(116.3 523.64) scale(0.87 1)" font-size="5.29" text-anchor="middle" fill="#111111" stroke="#111111" stroke-width="0.18">10</text>
<text transform="translate(127.46 523.64) scale(0.87 1)" font-size="5.29" text-anchor="middle" fill="#111111" stroke="#111111" stroke-width="0.18">12</text>
<text transform="translate(138.62 523.64) scale(0.87 1)" font-size="5.29" text-anchor="middle" fill="#111111" stroke="#111111" stroke-width="0.18">14</text>
<text transform="translate(149.78 523.64) scale(0.87 1)" font-size="5.29" text-anchor="middle" fill="#111111" stroke="#111111" stroke-width="0.18">16</text>
<text transform="translate(160.94 523.64) scale(0.87 1)" font-size="5.29" text-anchor="middle" fill="#111111" stroke="#111111" stroke-width="0.18">18</text>
<text transform="translate(172.1 523.64) scale(0.87 1)" font-size="5.29" text-anchor="middle" fill="#111111" stroke="#111111" stroke-width="0.18">20</text>
<text transform="translate(183.26 523.64) scale(0.87 1)" font-size="5.29" text-anchor="middle" fill="#111111" stroke="#111111" stroke-width="0.18">22</text>
<text transform="translate(194.42 523.64) scale(0.87 1)" font-size="5.29" text-anchor="middle" fill="#111111" stroke="#111111" stroke-width="0.18">24</text>
<text transform="translate(205.58 523.64) scale(0.87 1)" font-size="5.29" text-anchor="middle" fill="#111111" stroke="#111111" stroke-width="0.18">26</text>
<text transform="translate(216.74 523.64) scale(0.87 1)" font-size="5.29" text-anchor="middle" fill="#111111" stroke="#111111" stroke-width="0.18">28</text>
<text transform="translate(227.9 523.64) scale(0.87 1)" font-size="5.29" text-anchor="middle" fill="#111111" stroke="#111111" stroke-width="0.18">30</text>
<text transform="translate(239.06 523.64) scale(0.87 1)" font-size="5.29" text-anchor="middle" fill="#111111" stroke="#111111" stroke-width="0.18">32</text>
<text transform="translate(250.22 523.64) scale(0.87 1)" font-size="5.29" text-anchor="middle" fill="#111111" stroke="#111111" stroke-width="0.18">34</text>
<text transform="translate(261.38 523.64) scale(0.87 1)" font-size="5.29" text-anchor="middle" fill="#111111" stroke="#111111" stroke-width="0.18">36</text>
<text transform="translate(272.54 523.64) scale(0.87 1)" font-size="5.29" text-anchor="middle" fill="#111111" stroke="#111111" stroke-width="0.18">38</text>
<text transform="translate(283.7 523.64) scale(0.87 1)" font-size="5.29" text-anchor="middle" fill="#111111" stroke="#111111" stroke-width="0.18">40</text>
<text transform="translate(294.86 523.64) scale(0.87 1)" font-size="5.29" text-anchor="middle" fill="#111111" stroke="#111111" stroke-width="0.18">42</text>
<text transform="translate(306.02 523.64) scale(0.87 1)" font-size="5.29" text-anchor="middle" fill="#111111" stroke="#111111" stroke-width="0.18">44</text>
<text transform="translate(317.18 523.64) scale(0.87 1)" font-size="5.29" text-anchor="middle" fill="#111111" stroke="#111111" stroke-width="0.18">46</text>
<text transform="translate(328.34 523.64) scale(0.87 1)" font-size="5.29" text-anchor="middle" fill="#111111" stroke="#111111" stroke-width="0.18">48</text>
<text transform="translate(339.5 523.64) scale(0.87 1)" font-size="5.29" text-anchor="middle" fill="#111111" stroke="#111111" stroke-width="0.18">50</text>
<path d="M58 514.9H60.5M58 495.54H60.5M58 476.18H60.5M58 456.82H60.5M58 437.46H60.5M58 418.1H60.5M58 398.74H60.5M58 379.38H60.5M58 360.02H60.5M58 340.66H60.5M58 321.3H60.5M60.5 514.9V517.2M71.66 514.9V517.2M82.82 514.9V517.2M93.98 514.9V517.2M105.14 514.9V517.2M116.3 514.9V517.2M127.46 514.9V517.2M138.62 514.9V517.2M149.78 514.9V517.2M160.94 514.9V517.2M172.1 514.9V517.2M183.26 514.9V517.2M194.42 514.9V517.2M205.58 514.9V517.2M216.74 514.9V517.2M227.9 514.9V517.2M239.06 514.9V517.2M250.22 514.9V517.2M261.38 514.9V517.2M272.54 514.9V517.2M283.7 514.9V517.2M294.86 514.9V517.2M306.02 514.9V517.2M317.18 514.9V517.2M328.34 514.9V517.2M339.5 514.9V517.2" stroke="#92969b" stroke-width="1" fill="none"/>
<text transform="translate(200 531.86) scale(0.87 1)" font-size="5.62" text-anchor="middle" fill="#111111" stroke="#111111" stroke-width="0.18">Time Since Treatment Initiation (months)</text>
<text x="42" y="419.71" font-size="4.89" text-anchor="middle" fill="#111111" stroke="#111111" stroke-width="0.18" transform="rotate(-90 42 418.1)">Overall Survival (%)</text>
<path d="M123.2 321.9H123.2V337.43H156.6V353.57H333.5" fill="none" stroke="#861d23" stroke-width="1.25"/>
<path d="M284.6 351.67V355.47M285.3 351.67V355.47M287.7 351.67V355.47M294.6 351.67V355.47M296.1 351.67V355.47M303.4 351.67V355.47M307.6 351.67V355.47M329.5 351.67V355.47M331.5 351.67V355.47" stroke="#861d23" stroke-width="1.0" fill="none"/>
<path d="M60.5 321.3H337.9" fill="none" stroke="#47b2ad" stroke-width="1.25"/>
<path d="M282.6 319.4V323.2M283.4 319.4V323.2M284.2 319.4V323.2M285.3 319.4V323.2M288.4 319.4V323.2M290.3 319.4V323.2M293.3 319.4V323.2M300.4 319.4V323.2M308.9 319.4V323.2M327.5 319.4V323.2M328.2 319.4V323.2M335.7 319.4V323.2" stroke="#47b2ad" stroke-width="1.0" fill="none"/>
<text transform="translate(63.2 486.65) scale(0.87 1)" font-size="5" text-anchor="start" font-weight="bold" fill="#111111" stroke="#111111" stroke-width="0.18">36-month rates:</text>
<text transform="translate(63.2 494.65) scale(0.87 1)" font-size="5" text-anchor="start" fill="#861d23" stroke="#861d23" stroke-width="0.18">EMVI-positive: 83.3% (95% CI 48.2, 95.6)</text>
<text transform="translate(63.2 502.25) scale(0.87 1)" font-size="5" text-anchor="start" fill="#2fa39e" stroke="#2fa39e" stroke-width="0.18">EMVI-negative: 100.0% (95% CI 100.0, 100.0)</text>
<text transform="translate(63.2 509.65) scale(0.87 1)" font-size="5" text-anchor="start" fill="#111111" stroke="#111111" stroke-width="0.18">Nominal <tspan font-style="italic">p</tspan>-value: 0.077</text>
<path d="M302.8 501.7H319.8" stroke="#861d23" stroke-width="1.4" stroke-opacity="0.85"/>
<path d="M302.8 506.4H319.8" stroke="#47b2ad" stroke-width="1.4" stroke-opacity="0.85"/>
<path d="M309.8 510.8H312.8M311.3 509.1V512.5" stroke="#1f3b6b" stroke-width="1.0"/>
<text transform="translate(322 503.29) scale(0.87 1)" font-size="4.83" text-anchor="start" fill="#111111" stroke="#111111" stroke-width="0.18">EMVI-positive</text>
<text transform="translate(322 507.99) scale(0.87 1)" font-size="4.83" text-anchor="start" fill="#111111" stroke="#111111" stroke-width="0.18">EMVI-negative</text>
<text transform="translate(322 512.39) scale(0.87 1)" font-size="4.83" text-anchor="start" fill="#111111" stroke="#111111" stroke-width="0.18">Censored</text>
<text transform="translate(25.9 539.63) scale(0.87 1)" font-size="4.95" text-anchor="start" fill="#111111" stroke="#111111" stroke-width="0.16">Number at risk (censored)</text>
<text transform="translate(25.9 547.23) scale(0.87 1)" font-size="4.95" text-anchor="start" font-weight="bold" fill="#111111" stroke="#111111" stroke-width="0.18">EMVI-positive</text>
<text transform="translate(25.9 555.13) scale(0.87 1)" font-size="4.95" text-anchor="start" font-weight="bold" fill="#111111" stroke="#111111" stroke-width="0.18">EMVI-negative</text>
<text transform="translate(60.5 547.23) scale(0.87 1)" font-size="4.95" text-anchor="middle" fill="#861d23" stroke="#861d23" stroke-width="0.18">12(0)</text>
<text transform="translate(60.5 555.13) scale(0.87 1)" font-size="4.95" text-anchor="middle" fill="#2fa39e" stroke="#2fa39e" stroke-width="0.18">18(0)</text>
<text transform="translate(71.66 547.23) scale(0.87 1)" font-size="4.95" text-anchor="middle" fill="#861d23" stroke="#861d23" stroke-width="0.18">12(0)</text>
<text transform="translate(71.66 555.13) scale(0.87 1)" font-size="4.95" text-anchor="middle" fill="#2fa39e" stroke="#2fa39e" stroke-width="0.18">18(0)</text>
<text transform="translate(82.82 547.23) scale(0.87 1)" font-size="4.95" text-anchor="middle" fill="#861d23" stroke="#861d23" stroke-width="0.18">12(0)</text>
<text transform="translate(82.82 555.13) scale(0.87 1)" font-size="4.95" text-anchor="middle" fill="#2fa39e" stroke="#2fa39e" stroke-width="0.18">18(0)</text>
<text transform="translate(93.98 547.23) scale(0.87 1)" font-size="4.95" text-anchor="middle" fill="#861d23" stroke="#861d23" stroke-width="0.18">12(0)</text>
<text transform="translate(93.98 555.13) scale(0.87 1)" font-size="4.95" text-anchor="middle" fill="#2fa39e" stroke="#2fa39e" stroke-width="0.18">18(0)</text>
<text transform="translate(105.14 547.23) scale(0.87 1)" font-size="4.95" text-anchor="middle" fill="#861d23" stroke="#861d23" stroke-width="0.18">12(0)</text>
<text transform="translate(105.14 555.13) scale(0.87 1)" font-size="4.95" text-anchor="middle" fill="#2fa39e" stroke="#2fa39e" stroke-width="0.18">18(0)</text>
<text transform="translate(116.3 547.23) scale(0.87 1)" font-size="4.95" text-anchor="middle" fill="#861d23" stroke="#861d23" stroke-width="0.18">12(0)</text>
<text transform="translate(116.3 555.13) scale(0.87 1)" font-size="4.95" text-anchor="middle" fill="#2fa39e" stroke="#2fa39e" stroke-width="0.18">18(0)</text>
<text transform="translate(127.46 547.23) scale(0.87 1)" font-size="4.95" text-anchor="middle" fill="#861d23" stroke="#861d23" stroke-width="0.18">11(0)</text>
<text transform="translate(127.46 555.13) scale(0.87 1)" font-size="4.95" text-anchor="middle" fill="#2fa39e" stroke="#2fa39e" stroke-width="0.18">18(0)</text>
<text transform="translate(138.62 547.23) scale(0.87 1)" font-size="4.95" text-anchor="middle" fill="#861d23" stroke="#861d23" stroke-width="0.18">11(0)</text>
<text transform="translate(138.62 555.13) scale(0.87 1)" font-size="4.95" text-anchor="middle" fill="#2fa39e" stroke="#2fa39e" stroke-width="0.18">18(0)</text>
<text transform="translate(149.78 547.23) scale(0.87 1)" font-size="4.95" text-anchor="middle" fill="#861d23" stroke="#861d23" stroke-width="0.18">11(0)</text>
<text transform="translate(149.78 555.13) scale(0.87 1)" font-size="4.95" text-anchor="middle" fill="#2fa39e" stroke="#2fa39e" stroke-width="0.18">18(0)</text>
<text transform="translate(160.94 547.23) scale(0.87 1)" font-size="4.95" text-anchor="middle" fill="#861d23" stroke="#861d23" stroke-width="0.18">10(0)</text>
<text transform="translate(160.94 555.13) scale(0.87 1)" font-size="4.95" text-anchor="middle" fill="#2fa39e" stroke="#2fa39e" stroke-width="0.18">18(0)</text>
<text transform="translate(172.1 547.23) scale(0.87 1)" font-size="4.95" text-anchor="middle" fill="#861d23" stroke="#861d23" stroke-width="0.18">10(0)</text>
<text transform="translate(172.1 555.13) scale(0.87 1)" font-size="4.95" text-anchor="middle" fill="#2fa39e" stroke="#2fa39e" stroke-width="0.18">18(0)</text>
<text transform="translate(183.26 547.23) scale(0.87 1)" font-size="4.95" text-anchor="middle" fill="#861d23" stroke="#861d23" stroke-width="0.18">10(0)</text>
<text transform="translate(183.26 555.13) scale(0.87 1)" font-size="4.95" text-anchor="middle" fill="#2fa39e" stroke="#2fa39e" stroke-width="0.18">18(0)</text>
<text transform="translate(194.42 547.23) scale(0.87 1)" font-size="4.95" text-anchor="middle" fill="#861d23" stroke="#861d23" stroke-width="0.18">10(0)</text>
<text transform="translate(194.42 555.13) scale(0.87 1)" font-size="4.95" text-anchor="middle" fill="#2fa39e" stroke="#2fa39e" stroke-width="0.18">18(0)</text>
<text transform="translate(205.58 547.23) scale(0.87 1)" font-size="4.95" text-anchor="middle" fill="#861d23" stroke="#861d23" stroke-width="0.18">10(0)</text>
<text transform="translate(205.58 555.13) scale(0.87 1)" font-size="4.95" text-anchor="middle" fill="#2fa39e" stroke="#2fa39e" stroke-width="0.18">18(0)</text>
<text transform="translate(216.74 547.23) scale(0.87 1)" font-size="4.95" text-anchor="middle" fill="#861d23" stroke="#861d23" stroke-width="0.18">10(0)</text>
<text transform="translate(216.74 555.13) scale(0.87 1)" font-size="4.95" text-anchor="middle" fill="#2fa39e" stroke="#2fa39e" stroke-width="0.18">18(0)</text>
<text transform="translate(227.9 547.23) scale(0.87 1)" font-size="4.95" text-anchor="middle" fill="#861d23" stroke="#861d23" stroke-width="0.18">10(0)</text>
<text transform="translate(227.9 555.13) scale(0.87 1)" font-size="4.95" text-anchor="middle" fill="#2fa39e" stroke="#2fa39e" stroke-width="0.18">18(0)</text>
<text transform="translate(239.06 547.23) scale(0.87 1)" font-size="4.95" text-anchor="middle" fill="#861d23" stroke="#861d23" stroke-width="0.18">10(0)</text>
<text transform="translate(239.06 555.13) scale(0.87 1)" font-size="4.95" text-anchor="middle" fill="#2fa39e" stroke="#2fa39e" stroke-width="0.18">18(0)</text>
<text transform="translate(250.22 547.23) scale(0.87 1)" font-size="4.95" text-anchor="middle" fill="#861d23" stroke="#861d23" stroke-width="0.18">10(0)</text>
<text transform="translate(250.22 555.13) scale(0.87 1)" font-size="4.95" text-anchor="middle" fill="#2fa39e" stroke="#2fa39e" stroke-width="0.18">18(0)</text>
<text transform="translate(261.38 547.23) scale(0.87 1)" font-size="4.95" text-anchor="middle" fill="#861d23" stroke="#861d23" stroke-width="0.18">10(0)</text>
<text transform="translate(261.38 555.13) scale(0.87 1)" font-size="4.95" text-anchor="middle" fill="#2fa39e" stroke="#2fa39e" stroke-width="0.18">18(0)</text>
<text transform="translate(272.54 547.23) scale(0.87 1)" font-size="4.95" text-anchor="middle" fill="#861d23" stroke="#861d23" stroke-width="0.18">10(0)</text>
<text transform="translate(272.54 555.13) scale(0.87 1)" font-size="4.95" text-anchor="middle" fill="#2fa39e" stroke="#2fa39e" stroke-width="0.18">18(0)</text>
<text transform="translate(283.7 547.23) scale(0.87 1)" font-size="4.95" text-anchor="middle" fill="#861d23" stroke="#861d23" stroke-width="0.18">10(0)</text>
<text transform="translate(283.7 555.13) scale(0.87 1)" font-size="4.95" text-anchor="middle" fill="#2fa39e" stroke="#2fa39e" stroke-width="0.18">16(2)</text>
<text transform="translate(294.86 547.23) scale(0.87 1)" font-size="4.95" text-anchor="middle" fill="#861d23" stroke="#861d23" stroke-width="0.18">5(5)</text>
<text transform="translate(294.86 555.13) scale(0.87 1)" font-size="4.95" text-anchor="middle" fill="#2fa39e" stroke="#2fa39e" stroke-width="0.18">6(12)</text>
<text transform="translate(306.02 547.23) scale(0.87 1)" font-size="4.95" text-anchor="middle" fill="#861d23" stroke="#861d23" stroke-width="0.18">3(7)</text>
<text transform="translate(306.02 555.13) scale(0.87 1)" font-size="4.95" text-anchor="middle" fill="#2fa39e" stroke="#2fa39e" stroke-width="0.18">5(13)</text>
<text transform="translate(317.18 547.23) scale(0.87 1)" font-size="4.95" text-anchor="middle" fill="#861d23" stroke="#861d23" stroke-width="0.18">2(8)</text>
<text transform="translate(317.18 555.13) scale(0.87 1)" font-size="4.95" text-anchor="middle" fill="#2fa39e" stroke="#2fa39e" stroke-width="0.18">4(14)</text>
<text transform="translate(328.34 547.23) scale(0.87 1)" font-size="4.95" text-anchor="middle" fill="#861d23" stroke="#861d23" stroke-width="0.18">2(8)</text>
<text transform="translate(328.34 555.13) scale(0.87 1)" font-size="4.95" text-anchor="middle" fill="#2fa39e" stroke="#2fa39e" stroke-width="0.18">2(16)</text>
<text transform="translate(339.5 547.23) scale(0.87 1)" font-size="4.95" text-anchor="middle" fill="#861d23" stroke="#861d23" stroke-width="0.18">0(10)</text>
<text transform="translate(339.5 555.13) scale(0.87 1)" font-size="4.95" text-anchor="middle" fill="#2fa39e" stroke="#2fa39e" stroke-width="0.18">0(18)</text>
<text x="347.6" y="293.8" font-size="14" text-anchor="start" font-weight="bold" fill="#111111" stroke="#111111" stroke-width="0">D</text>
<text x="522.2" y="303" font-size="11.75" text-anchor="middle" font-weight="bold" fill="#111111" stroke="#111111" stroke-width="0">Baseline CRM status</text>
<path d="M396.4 316.9V515.5H680.3" fill="none" stroke="#9fa3a7" stroke-width="1"/>
<text transform="translate(393 497.78) scale(0.87 1)" font-size="5.32" text-anchor="end" fill="#111111" stroke="#111111" stroke-width="0.18">10</text>
<text transform="translate(393 478.3) scale(0.87 1)" font-size="5.32" text-anchor="end" fill="#111111" stroke="#111111" stroke-width="0.18">20</text>
<text transform="translate(393 458.82) scale(0.87 1)" font-size="5.32" text-anchor="end" fill="#111111" stroke="#111111" stroke-width="0.18">30</text>
<text transform="translate(393 439.34) scale(0.87 1)" font-size="5.32" text-anchor="end" fill="#111111" stroke="#111111" stroke-width="0.18">40</text>
<text transform="translate(393 419.86) scale(0.87 1)" font-size="5.32" text-anchor="end" fill="#111111" stroke="#111111" stroke-width="0.18">50</text>
<text transform="translate(393 400.38) scale(0.87 1)" font-size="5.32" text-anchor="end" fill="#111111" stroke="#111111" stroke-width="0.18">60</text>
<text transform="translate(393 380.9) scale(0.87 1)" font-size="5.32" text-anchor="end" fill="#111111" stroke="#111111" stroke-width="0.18">70</text>
<text transform="translate(393 361.42) scale(0.87 1)" font-size="5.32" text-anchor="end" fill="#111111" stroke="#111111" stroke-width="0.18">80</text>
<text transform="translate(393 341.94) scale(0.87 1)" font-size="5.32" text-anchor="end" fill="#111111" stroke="#111111" stroke-width="0.18">90</text>
<text transform="translate(393 322.46) scale(0.87 1)" font-size="5.32" text-anchor="end" fill="#111111" stroke="#111111" stroke-width="0.18">100</text>
<text transform="translate(407.62 524.26) scale(0.87 1)" font-size="5.32" text-anchor="middle" fill="#111111" stroke="#111111" stroke-width="0.18">2</text>
<text transform="translate(418.84 524.26) scale(0.87 1)" font-size="5.32" text-anchor="middle" fill="#111111" stroke="#111111" stroke-width="0.18">4</text>
<text transform="translate(430.06 524.26) scale(0.87 1)" font-size="5.32" text-anchor="middle" fill="#111111" stroke="#111111" stroke-width="0.18">6</text>
<text transform="translate(441.28 524.26) scale(0.87 1)" font-size="5.32" text-anchor="middle" fill="#111111" stroke="#111111" stroke-width="0.18">8</text>
<text transform="translate(452.5 524.26) scale(0.87 1)" font-size="5.32" text-anchor="middle" fill="#111111" stroke="#111111" stroke-width="0.18">10</text>
<text transform="translate(463.72 524.26) scale(0.87 1)" font-size="5.32" text-anchor="middle" fill="#111111" stroke="#111111" stroke-width="0.18">12</text>
<text transform="translate(474.94 524.26) scale(0.87 1)" font-size="5.32" text-anchor="middle" fill="#111111" stroke="#111111" stroke-width="0.18">14</text>
<text transform="translate(486.16 524.26) scale(0.87 1)" font-size="5.32" text-anchor="middle" fill="#111111" stroke="#111111" stroke-width="0.18">16</text>
<text transform="translate(497.38 524.26) scale(0.87 1)" font-size="5.32" text-anchor="middle" fill="#111111" stroke="#111111" stroke-width="0.18">18</text>
<text transform="translate(508.6 524.26) scale(0.87 1)" font-size="5.32" text-anchor="middle" fill="#111111" stroke="#111111" stroke-width="0.18">20</text>
<text transform="translate(519.82 524.26) scale(0.87 1)" font-size="5.32" text-anchor="middle" fill="#111111" stroke="#111111" stroke-width="0.18">22</text>
<text transform="translate(531.04 524.26) scale(0.87 1)" font-size="5.32" text-anchor="middle" fill="#111111" stroke="#111111" stroke-width="0.18">24</text>
<text transform="translate(542.26 524.26) scale(0.87 1)" font-size="5.32" text-anchor="middle" fill="#111111" stroke="#111111" stroke-width="0.18">26</text>
<text transform="translate(553.48 524.26) scale(0.87 1)" font-size="5.32" text-anchor="middle" fill="#111111" stroke="#111111" stroke-width="0.18">28</text>
<text transform="translate(564.7 524.26) scale(0.87 1)" font-size="5.32" text-anchor="middle" fill="#111111" stroke="#111111" stroke-width="0.18">30</text>
<text transform="translate(575.92 524.26) scale(0.87 1)" font-size="5.32" text-anchor="middle" fill="#111111" stroke="#111111" stroke-width="0.18">32</text>
<text transform="translate(587.14 524.26) scale(0.87 1)" font-size="5.32" text-anchor="middle" fill="#111111" stroke="#111111" stroke-width="0.18">34</text>
<text transform="translate(598.36 524.26) scale(0.87 1)" font-size="5.32" text-anchor="middle" fill="#111111" stroke="#111111" stroke-width="0.18">36</text>
<text transform="translate(609.58 524.26) scale(0.87 1)" font-size="5.32" text-anchor="middle" fill="#111111" stroke="#111111" stroke-width="0.18">38</text>
<text transform="translate(620.8 524.26) scale(0.87 1)" font-size="5.32" text-anchor="middle" fill="#111111" stroke="#111111" stroke-width="0.18">40</text>
<text transform="translate(632.02 524.26) scale(0.87 1)" font-size="5.32" text-anchor="middle" fill="#111111" stroke="#111111" stroke-width="0.18">42</text>
<text transform="translate(643.24 524.26) scale(0.87 1)" font-size="5.32" text-anchor="middle" fill="#111111" stroke="#111111" stroke-width="0.18">44</text>
<text transform="translate(654.46 524.26) scale(0.87 1)" font-size="5.32" text-anchor="middle" fill="#111111" stroke="#111111" stroke-width="0.18">46</text>
<text transform="translate(665.68 524.26) scale(0.87 1)" font-size="5.32" text-anchor="middle" fill="#111111" stroke="#111111" stroke-width="0.18">48</text>
<text transform="translate(676.9 524.26) scale(0.87 1)" font-size="5.32" text-anchor="middle" fill="#111111" stroke="#111111" stroke-width="0.18">50</text>
<path d="M393.9 515.5H396.4M393.9 496.02H396.4M393.9 476.54H396.4M393.9 457.06H396.4M393.9 437.58H396.4M393.9 418.1H396.4M393.9 398.62H396.4M393.9 379.14H396.4M393.9 359.66H396.4M393.9 340.18H396.4M393.9 320.7H396.4M396.4 515.5V517.8M407.62 515.5V517.8M418.84 515.5V517.8M430.06 515.5V517.8M441.28 515.5V517.8M452.5 515.5V517.8M463.72 515.5V517.8M474.94 515.5V517.8M486.16 515.5V517.8M497.38 515.5V517.8M508.6 515.5V517.8M519.82 515.5V517.8M531.04 515.5V517.8M542.26 515.5V517.8M553.48 515.5V517.8M564.7 515.5V517.8M575.92 515.5V517.8M587.14 515.5V517.8M598.36 515.5V517.8M609.58 515.5V517.8M620.8 515.5V517.8M632.02 515.5V517.8M643.24 515.5V517.8M654.46 515.5V517.8M665.68 515.5V517.8M676.9 515.5V517.8" stroke="#92969b" stroke-width="1" fill="none"/>
<text transform="translate(536.65 532.47) scale(0.87 1)" font-size="5.66" text-anchor="middle" fill="#111111" stroke="#111111" stroke-width="0.18">Time Since Treatment Initiation (months)</text>
<text x="377.9" y="419.73" font-size="4.92" text-anchor="middle" fill="#111111" stroke="#111111" stroke-width="0.18" transform="rotate(-90 377.9 418.1)">Overall Survival (%)</text>
<path d="M459.5 321.3H459.5V330.44H492.6V339.6H675" fill="none" stroke="#861d23" stroke-width="1.25"/>
<path d="M619.8 337.7V341.5M620.5 337.7V341.5M621.4 337.7V341.5M622.3 337.7V341.5M623.1 337.7V341.5M624.5 337.7V341.5M625.4 337.7V341.5M627.8 337.7V341.5M631.5 337.7V341.5M632.4 337.7V341.5M633.2 337.7V341.5M640.4 337.7V341.5M644.4 337.7V341.5M664.7 337.7V341.5M665.8 337.7V341.5M666.9 337.7V341.5M673.4 337.7V341.5" stroke="#861d23" stroke-width="1.0" fill="none"/>
<path d="M396.4 320.7H670.7" fill="none" stroke="#47b2ad" stroke-width="1.25"/>
<path d="M621.4 318.8V322.6M622.3 318.8V322.6M623.2 318.8V322.6M625.6 318.8V322.6M630.7 318.8V322.6M637.8 318.8V322.6M646.4 318.8V322.6M665.4 318.8V322.6M669.4 318.8V322.6" stroke="#47b2ad" stroke-width="1.0" fill="none"/>
<text transform="translate(399.2 487.26) scale(0.87 1)" font-size="5.04" text-anchor="start" font-weight="bold" fill="#111111" stroke="#111111" stroke-width="0.18">36-month rates:</text>
<text transform="translate(399.2 495.26) scale(0.87 1)" font-size="5.04" text-anchor="start" fill="#861d23" stroke="#861d23" stroke-width="0.18">CRM-positive: 90.3% (95% CI 67.8, 97.5)</text>
<text transform="translate(399.2 503.06) scale(0.87 1)" font-size="5.04" text-anchor="start" fill="#2fa39e" stroke="#2fa39e" stroke-width="0.18">CRM-negative: 100.0% (95% CI 100.0, 100.0)</text>
<text transform="translate(399.2 510.26) scale(0.87 1)" font-size="5.04" text-anchor="start" fill="#111111" stroke="#111111" stroke-width="0.18">Nominal <tspan font-style="italic">p</tspan>-value: 0.349</text>
<path d="M639.9 502.3H657" stroke="#861d23" stroke-width="1.4" stroke-opacity="0.85"/>
<path d="M639.9 507.1H657" stroke="#47b2ad" stroke-width="1.4" stroke-opacity="0.85"/>
<path d="M647 511.6H650M648.5 509.9V513.3" stroke="#1f3b6b" stroke-width="1.0"/>
<text transform="translate(658.9 503.97) scale(0.87 1)" font-size="5.06" text-anchor="start" fill="#111111" stroke="#111111" stroke-width="0.18">CRM-positive</text>
<text transform="translate(658.9 508.77) scale(0.87 1)" font-size="5.06" text-anchor="start" fill="#111111" stroke="#111111" stroke-width="0.18">CRM-negative</text>
<text transform="translate(658.9 513.27) scale(0.87 1)" font-size="5.06" text-anchor="start" fill="#111111" stroke="#111111" stroke-width="0.18">Censored</text>
<text transform="translate(363 541.04) scale(0.87 1)" font-size="4.98" text-anchor="start" fill="#111111" stroke="#111111" stroke-width="0.16">Number at risk (censored)</text>
<text transform="translate(363 548.44) scale(0.87 1)" font-size="4.98" text-anchor="start" font-weight="bold" fill="#111111" stroke="#111111" stroke-width="0.18">CRM-positive</text>
<text transform="translate(363 556.14) scale(0.87 1)" font-size="4.98" text-anchor="start" font-weight="bold" fill="#111111" stroke="#111111" stroke-width="0.18">CRM-negative</text>
<text transform="translate(396.4 548.44) scale(0.87 1)" font-size="4.98" text-anchor="middle" fill="#861d23" stroke="#861d23" stroke-width="0.18">21(0)</text>
<text transform="translate(396.4 556.14) scale(0.87 1)" font-size="4.98" text-anchor="middle" fill="#2fa39e" stroke="#2fa39e" stroke-width="0.18">9(0)</text>
<text transform="translate(407.62 548.44) scale(0.87 1)" font-size="4.98" text-anchor="middle" fill="#861d23" stroke="#861d23" stroke-width="0.18">21(0)</text>
<text transform="translate(407.62 556.14) scale(0.87 1)" font-size="4.98" text-anchor="middle" fill="#2fa39e" stroke="#2fa39e" stroke-width="0.18">9(0)</text>
<text transform="translate(418.84 548.44) scale(0.87 1)" font-size="4.98" text-anchor="middle" fill="#861d23" stroke="#861d23" stroke-width="0.18">21(0)</text>
<text transform="translate(418.84 556.14) scale(0.87 1)" font-size="4.98" text-anchor="middle" fill="#2fa39e" stroke="#2fa39e" stroke-width="0.18">9(0)</text>
<text transform="translate(430.06 548.44) scale(0.87 1)" font-size="4.98" text-anchor="middle" fill="#861d23" stroke="#861d23" stroke-width="0.18">21(0)</text>
<text transform="translate(430.06 556.14) scale(0.87 1)" font-size="4.98" text-anchor="middle" fill="#2fa39e" stroke="#2fa39e" stroke-width="0.18">9(0)</text>
<text transform="translate(441.28 548.44) scale(0.87 1)" font-size="4.98" text-anchor="middle" fill="#861d23" stroke="#861d23" stroke-width="0.18">21(0)</text>
<text transform="translate(441.28 556.14) scale(0.87 1)" font-size="4.98" text-anchor="middle" fill="#2fa39e" stroke="#2fa39e" stroke-width="0.18">9(0)</text>
<text transform="translate(452.5 548.44) scale(0.87 1)" font-size="4.98" text-anchor="middle" fill="#861d23" stroke="#861d23" stroke-width="0.18">21(0)</text>
<text transform="translate(452.5 556.14) scale(0.87 1)" font-size="4.98" text-anchor="middle" fill="#2fa39e" stroke="#2fa39e" stroke-width="0.18">9(0)</text>
<text transform="translate(463.72 548.44) scale(0.87 1)" font-size="4.98" text-anchor="middle" fill="#861d23" stroke="#861d23" stroke-width="0.18">20(0)</text>
<text transform="translate(463.72 556.14) scale(0.87 1)" font-size="4.98" text-anchor="middle" fill="#2fa39e" stroke="#2fa39e" stroke-width="0.18">9(0)</text>
<text transform="translate(474.94 548.44) scale(0.87 1)" font-size="4.98" text-anchor="middle" fill="#861d23" stroke="#861d23" stroke-width="0.18">20(0)</text>
<text transform="translate(474.94 556.14) scale(0.87 1)" font-size="4.98" text-anchor="middle" fill="#2fa39e" stroke="#2fa39e" stroke-width="0.18">9(0)</text>
<text transform="translate(486.16 548.44) scale(0.87 1)" font-size="4.98" text-anchor="middle" fill="#861d23" stroke="#861d23" stroke-width="0.18">20(0)</text>
<text transform="translate(486.16 556.14) scale(0.87 1)" font-size="4.98" text-anchor="middle" fill="#2fa39e" stroke="#2fa39e" stroke-width="0.18">9(0)</text>
<text transform="translate(497.38 548.44) scale(0.87 1)" font-size="4.98" text-anchor="middle" fill="#861d23" stroke="#861d23" stroke-width="0.18">19(0)</text>
<text transform="translate(497.38 556.14) scale(0.87 1)" font-size="4.98" text-anchor="middle" fill="#2fa39e" stroke="#2fa39e" stroke-width="0.18">9(0)</text>
<text transform="translate(508.6 548.44) scale(0.87 1)" font-size="4.98" text-anchor="middle" fill="#861d23" stroke="#861d23" stroke-width="0.18">19(0)</text>
<text transform="translate(508.6 556.14) scale(0.87 1)" font-size="4.98" text-anchor="middle" fill="#2fa39e" stroke="#2fa39e" stroke-width="0.18">9(0)</text>
<text transform="translate(519.82 548.44) scale(0.87 1)" font-size="4.98" text-anchor="middle" fill="#861d23" stroke="#861d23" stroke-width="0.18">19(0)</text>
<text transform="translate(519.82 556.14) scale(0.87 1)" font-size="4.98" text-anchor="middle" fill="#2fa39e" stroke="#2fa39e" stroke-width="0.18">9(0)</text>
<text transform="translate(531.04 548.44) scale(0.87 1)" font-size="4.98" text-anchor="middle" fill="#861d23" stroke="#861d23" stroke-width="0.18">19(0)</text>
<text transform="translate(531.04 556.14) scale(0.87 1)" font-size="4.98" text-anchor="middle" fill="#2fa39e" stroke="#2fa39e" stroke-width="0.18">9(0)</text>
<text transform="translate(542.26 548.44) scale(0.87 1)" font-size="4.98" text-anchor="middle" fill="#861d23" stroke="#861d23" stroke-width="0.18">19(0)</text>
<text transform="translate(542.26 556.14) scale(0.87 1)" font-size="4.98" text-anchor="middle" fill="#2fa39e" stroke="#2fa39e" stroke-width="0.18">9(0)</text>
<text transform="translate(553.48 548.44) scale(0.87 1)" font-size="4.98" text-anchor="middle" fill="#861d23" stroke="#861d23" stroke-width="0.18">19(0)</text>
<text transform="translate(553.48 556.14) scale(0.87 1)" font-size="4.98" text-anchor="middle" fill="#2fa39e" stroke="#2fa39e" stroke-width="0.18">9(0)</text>
<text transform="translate(564.7 548.44) scale(0.87 1)" font-size="4.98" text-anchor="middle" fill="#861d23" stroke="#861d23" stroke-width="0.18">19(0)</text>
<text transform="translate(564.7 556.14) scale(0.87 1)" font-size="4.98" text-anchor="middle" fill="#2fa39e" stroke="#2fa39e" stroke-width="0.18">9(0)</text>
<text transform="translate(575.92 548.44) scale(0.87 1)" font-size="4.98" text-anchor="middle" fill="#861d23" stroke="#861d23" stroke-width="0.18">19(0)</text>
<text transform="translate(575.92 556.14) scale(0.87 1)" font-size="4.98" text-anchor="middle" fill="#2fa39e" stroke="#2fa39e" stroke-width="0.18">9(0)</text>
<text transform="translate(587.14 548.44) scale(0.87 1)" font-size="4.98" text-anchor="middle" fill="#861d23" stroke="#861d23" stroke-width="0.18">19(0)</text>
<text transform="translate(587.14 556.14) scale(0.87 1)" font-size="4.98" text-anchor="middle" fill="#2fa39e" stroke="#2fa39e" stroke-width="0.18">9(0)</text>
<text transform="translate(598.36 548.44) scale(0.87 1)" font-size="4.98" text-anchor="middle" fill="#861d23" stroke="#861d23" stroke-width="0.18">19(0)</text>
<text transform="translate(598.36 556.14) scale(0.87 1)" font-size="4.98" text-anchor="middle" fill="#2fa39e" stroke="#2fa39e" stroke-width="0.18">9(0)</text>
<text transform="translate(609.58 548.44) scale(0.87 1)" font-size="4.98" text-anchor="middle" fill="#861d23" stroke="#861d23" stroke-width="0.18">19(0)</text>
<text transform="translate(609.58 556.14) scale(0.87 1)" font-size="4.98" text-anchor="middle" fill="#2fa39e" stroke="#2fa39e" stroke-width="0.18">9(0)</text>
<text transform="translate(620.8 548.44) scale(0.87 1)" font-size="4.98" text-anchor="middle" fill="#861d23" stroke="#861d23" stroke-width="0.18">17(2)</text>
<text transform="translate(620.8 556.14) scale(0.87 1)" font-size="4.98" text-anchor="middle" fill="#2fa39e" stroke="#2fa39e" stroke-width="0.18">9(0)</text>
<text transform="translate(632.02 548.44) scale(0.87 1)" font-size="4.98" text-anchor="middle" fill="#861d23" stroke="#861d23" stroke-width="0.18">7(12)</text>
<text transform="translate(632.02 556.14) scale(0.87 1)" font-size="4.98" text-anchor="middle" fill="#2fa39e" stroke="#2fa39e" stroke-width="0.18">4(5)</text>
<text transform="translate(643.24 548.44) scale(0.87 1)" font-size="4.98" text-anchor="middle" fill="#861d23" stroke="#861d23" stroke-width="0.18">5(14)</text>
<text transform="translate(643.24 556.14) scale(0.87 1)" font-size="4.98" text-anchor="middle" fill="#2fa39e" stroke="#2fa39e" stroke-width="0.18">3(6)</text>
<text transform="translate(654.46 548.44) scale(0.87 1)" font-size="4.98" text-anchor="middle" fill="#861d23" stroke="#861d23" stroke-width="0.18">4(15)</text>
<text transform="translate(654.46 556.14) scale(0.87 1)" font-size="4.98" text-anchor="middle" fill="#2fa39e" stroke="#2fa39e" stroke-width="0.18">2(7)</text>
<text transform="translate(665.68 548.44) scale(0.87 1)" font-size="4.98" text-anchor="middle" fill="#861d23" stroke="#861d23" stroke-width="0.18">3(16)</text>
<text transform="translate(665.68 556.14) scale(0.87 1)" font-size="4.98" text-anchor="middle" fill="#2fa39e" stroke="#2fa39e" stroke-width="0.18">1(8)</text>
<text transform="translate(676.9 548.44) scale(0.87 1)" font-size="4.98" text-anchor="middle" fill="#861d23" stroke="#861d23" stroke-width="0.18">0(19)</text>
<text transform="translate(676.9 556.14) scale(0.87 1)" font-size="4.98" text-anchor="middle" fill="#2fa39e" stroke="#2fa39e" stroke-width="0.18">0(9)</text>
<text x="-0.3" y="576.9" font-size="14" text-anchor="start" font-weight="bold" fill="#111111" stroke="#111111" stroke-width="0">E</text>
<text x="184.5" y="587" font-size="11.75" text-anchor="middle" font-weight="bold" fill="#111111" stroke="#111111" stroke-width="0">PD-L1 CPS</text>
<path d="M51.6 603.7V807.6H343.2" fill="none" stroke="#9fa3a7" stroke-width="1"/>
<text transform="translate(48.2 789.4) scale(0.87 1)" font-size="5.49" text-anchor="end" fill="#111111" stroke="#111111" stroke-width="0.18">10</text>
<text transform="translate(48.2 769.39) scale(0.87 1)" font-size="5.49" text-anchor="end" fill="#111111" stroke="#111111" stroke-width="0.18">20</text>
<text transform="translate(48.2 749.38) scale(0.87 1)" font-size="5.49" text-anchor="end" fill="#111111" stroke="#111111" stroke-width="0.18">30</text>
<text transform="translate(48.2 729.37) scale(0.87 1)" font-size="5.49" text-anchor="end" fill="#111111" stroke="#111111" stroke-width="0.18">40</text>
<text transform="translate(48.2 709.36) scale(0.87 1)" font-size="5.49" text-anchor="end" fill="#111111" stroke="#111111" stroke-width="0.18">50</text>
<text transform="translate(48.2 689.35) scale(0.87 1)" font-size="5.49" text-anchor="end" fill="#111111" stroke="#111111" stroke-width="0.18">60</text>
<text transform="translate(48.2 669.34) scale(0.87 1)" font-size="5.49" text-anchor="end" fill="#111111" stroke="#111111" stroke-width="0.18">70</text>
<text transform="translate(48.2 649.33) scale(0.87 1)" font-size="5.49" text-anchor="end" fill="#111111" stroke="#111111" stroke-width="0.18">80</text>
<text transform="translate(48.2 629.32) scale(0.87 1)" font-size="5.49" text-anchor="end" fill="#111111" stroke="#111111" stroke-width="0.18">90</text>
<text transform="translate(48.2 609.31) scale(0.87 1)" font-size="5.49" text-anchor="end" fill="#111111" stroke="#111111" stroke-width="0.18">100</text>
<text transform="translate(63.61 816.41) scale(0.87 1)" font-size="5.49" text-anchor="middle" fill="#111111" stroke="#111111" stroke-width="0.18">2</text>
<text transform="translate(75.12 816.41) scale(0.87 1)" font-size="5.49" text-anchor="middle" fill="#111111" stroke="#111111" stroke-width="0.18">4</text>
<text transform="translate(86.62 816.41) scale(0.87 1)" font-size="5.49" text-anchor="middle" fill="#111111" stroke="#111111" stroke-width="0.18">6</text>
<text transform="translate(98.13 816.41) scale(0.87 1)" font-size="5.49" text-anchor="middle" fill="#111111" stroke="#111111" stroke-width="0.18">8</text>
<text transform="translate(109.64 816.41) scale(0.87 1)" font-size="5.49" text-anchor="middle" fill="#111111" stroke="#111111" stroke-width="0.18">10</text>
<text transform="translate(121.15 816.41) scale(0.87 1)" font-size="5.49" text-anchor="middle" fill="#111111" stroke="#111111" stroke-width="0.18">12</text>
<text transform="translate(132.66 816.41) scale(0.87 1)" font-size="5.49" text-anchor="middle" fill="#111111" stroke="#111111" stroke-width="0.18">14</text>
<text transform="translate(144.16 816.41) scale(0.87 1)" font-size="5.49" text-anchor="middle" fill="#111111" stroke="#111111" stroke-width="0.18">16</text>
<text transform="translate(155.67 816.41) scale(0.87 1)" font-size="5.49" text-anchor="middle" fill="#111111" stroke="#111111" stroke-width="0.18">18</text>
<text transform="translate(167.18 816.41) scale(0.87 1)" font-size="5.49" text-anchor="middle" fill="#111111" stroke="#111111" stroke-width="0.18">20</text>
<text transform="translate(178.69 816.41) scale(0.87 1)" font-size="5.49" text-anchor="middle" fill="#111111" stroke="#111111" stroke-width="0.18">22</text>
<text transform="translate(190.2 816.41) scale(0.87 1)" font-size="5.49" text-anchor="middle" fill="#111111" stroke="#111111" stroke-width="0.18">24</text>
<text transform="translate(201.7 816.41) scale(0.87 1)" font-size="5.49" text-anchor="middle" fill="#111111" stroke="#111111" stroke-width="0.18">26</text>
<text transform="translate(213.21 816.41) scale(0.87 1)" font-size="5.49" text-anchor="middle" fill="#111111" stroke="#111111" stroke-width="0.18">28</text>
<text transform="translate(224.72 816.41) scale(0.87 1)" font-size="5.49" text-anchor="middle" fill="#111111" stroke="#111111" stroke-width="0.18">30</text>
<text transform="translate(236.23 816.41) scale(0.87 1)" font-size="5.49" text-anchor="middle" fill="#111111" stroke="#111111" stroke-width="0.18">32</text>
<text transform="translate(247.74 816.41) scale(0.87 1)" font-size="5.49" text-anchor="middle" fill="#111111" stroke="#111111" stroke-width="0.18">34</text>
<text transform="translate(259.24 816.41) scale(0.87 1)" font-size="5.49" text-anchor="middle" fill="#111111" stroke="#111111" stroke-width="0.18">36</text>
<text transform="translate(270.75 816.41) scale(0.87 1)" font-size="5.49" text-anchor="middle" fill="#111111" stroke="#111111" stroke-width="0.18">38</text>
<text transform="translate(282.26 816.41) scale(0.87 1)" font-size="5.49" text-anchor="middle" fill="#111111" stroke="#111111" stroke-width="0.18">40</text>
<text transform="translate(293.77 816.41) scale(0.87 1)" font-size="5.49" text-anchor="middle" fill="#111111" stroke="#111111" stroke-width="0.18">42</text>
<text transform="translate(305.28 816.41) scale(0.87 1)" font-size="5.49" text-anchor="middle" fill="#111111" stroke="#111111" stroke-width="0.18">44</text>
<text transform="translate(316.78 816.41) scale(0.87 1)" font-size="5.49" text-anchor="middle" fill="#111111" stroke="#111111" stroke-width="0.18">46</text>
<text transform="translate(328.29 816.41) scale(0.87 1)" font-size="5.49" text-anchor="middle" fill="#111111" stroke="#111111" stroke-width="0.18">48</text>
<text transform="translate(339.8 816.41) scale(0.87 1)" font-size="5.49" text-anchor="middle" fill="#111111" stroke="#111111" stroke-width="0.18">50</text>
<path d="M49.1 807.6H51.6M49.1 787.59H51.6M49.1 767.58H51.6M49.1 747.57H51.6M49.1 727.56H51.6M49.1 707.55H51.6M49.1 687.54H51.6M49.1 667.53H51.6M49.1 647.52H51.6M49.1 627.51H51.6M49.1 607.5H51.6M52.1 807.6V809.9M63.61 807.6V809.9M75.12 807.6V809.9M86.62 807.6V809.9M98.13 807.6V809.9M109.64 807.6V809.9M121.15 807.6V809.9M132.66 807.6V809.9M144.16 807.6V809.9M155.67 807.6V809.9M167.18 807.6V809.9M178.69 807.6V809.9M190.2 807.6V809.9M201.7 807.6V809.9M213.21 807.6V809.9M224.72 807.6V809.9M236.23 807.6V809.9M247.74 807.6V809.9M259.24 807.6V809.9M270.75 807.6V809.9M282.26 807.6V809.9M293.77 807.6V809.9M305.28 807.6V809.9M316.78 807.6V809.9M328.29 807.6V809.9M339.8 807.6V809.9" stroke="#92969b" stroke-width="1" fill="none"/>
<text transform="translate(195.95 824.63) scale(0.87 1)" font-size="5.84" text-anchor="middle" fill="#111111" stroke="#111111" stroke-width="0.18">Time Since Treatment Initiation (months)</text>
<text x="33.1" y="709.22" font-size="5.07" text-anchor="middle" fill="#111111" stroke="#111111" stroke-width="0.18" transform="rotate(-90 33.1 707.55)">Overall Survival (%)</text>
<path d="M116.4 608.1H116.4V617.5H337.5" fill="none" stroke="#861d23" stroke-width="1.25"/>
<path d="M281.7 615.61V619.4M282.5 615.61V619.4M283.3 615.61V619.4M284.1 615.61V619.4M284.8 615.61V619.4M286.7 615.61V619.4M292.9 615.61V619.4M302.5 615.61V619.4M306.7 615.61V619.4M308.2 615.61V619.4M327.7 615.61V619.4M328.9 615.61V619.4M331.5 615.61V619.4M335.8 615.61V619.4" stroke="#861d23" stroke-width="1.0" fill="none"/>
<path d="M52.1 607.5H337.6" fill="none" stroke="#47b2ad" stroke-width="1.25"/>
<path d="M284.5 605.6V609.4M287.5 605.6V609.4M289.4 605.6V609.4M295.2 605.6V609.4M336.3 605.6V609.4" stroke="#47b2ad" stroke-width="1.0" fill="none"/>
<text transform="translate(54.4 778.71) scale(0.87 1)" font-size="5.19" text-anchor="start" font-weight="bold" fill="#111111" stroke="#111111" stroke-width="0.18">36-month rates:</text>
<text transform="translate(54.4 786.71) scale(0.87 1)" font-size="5.19" text-anchor="start" fill="#861d23" stroke="#861d23" stroke-width="0.18">PD-L1 &lt; 1: 95.0% (95% CI 69.5, 99.3)</text>
<text transform="translate(54.4 794.31) scale(0.87 1)" font-size="5.19" text-anchor="start" fill="#2fa39e" stroke="#2fa39e" stroke-width="0.18">PD-L1 ≥ 1: 100.0% (95% CI 100.0, 100.0)</text>
<text transform="translate(54.4 802.71) scale(0.87 1)" font-size="5.19" text-anchor="start" fill="#111111" stroke="#111111" stroke-width="0.18">Nominal <tspan font-style="italic">p</tspan>-value: 0.504</text>
<path d="M301.3 794.4H318.9" stroke="#861d23" stroke-width="1.4" stroke-opacity="0.85"/>
<path d="M301.3 798.7H318.9" stroke="#47b2ad" stroke-width="1.4" stroke-opacity="0.85"/>
<path d="M308.9 803.5H311.9M310.4 801.8V805.2" stroke="#1f3b6b" stroke-width="1.0"/>
<text transform="translate(320.8 796.11) scale(0.87 1)" font-size="5.17" text-anchor="start" fill="#111111" stroke="#111111" stroke-width="0.18">PD-L1 &lt; 1</text>
<text transform="translate(320.8 800.41) scale(0.87 1)" font-size="5.17" text-anchor="start" fill="#111111" stroke="#111111" stroke-width="0.18">PD-L1 ≥ 1</text>
<text transform="translate(320.8 805.21) scale(0.87 1)" font-size="5.17" text-anchor="start" fill="#111111" stroke="#111111" stroke-width="0.18">Censored</text>
<text transform="translate(25 833.09) scale(0.87 1)" font-size="5.14" text-anchor="start" fill="#111111" stroke="#111111" stroke-width="0.16">Number at risk (censored)</text>
<text transform="translate(25 841.29) scale(0.87 1)" font-size="5.14" text-anchor="start" font-weight="bold" fill="#111111" stroke="#111111" stroke-width="0.18">PD-L1 &lt; 1</text>
<text transform="translate(25 849.09) scale(0.87 1)" font-size="5.14" text-anchor="start" font-weight="bold" fill="#111111" stroke="#111111" stroke-width="0.18">PD-L1 ≥ 1</text>
<text transform="translate(52.1 841.29) scale(0.87 1)" font-size="5.14" text-anchor="middle" fill="#861d23" stroke="#861d23" stroke-width="0.18">20(0)</text>
<text transform="translate(52.1 849.09) scale(0.87 1)" font-size="5.14" text-anchor="middle" fill="#2fa39e" stroke="#2fa39e" stroke-width="0.18">6(0)</text>
<text transform="translate(63.61 841.29) scale(0.87 1)" font-size="5.14" text-anchor="middle" fill="#861d23" stroke="#861d23" stroke-width="0.18">20(0)</text>
<text transform="translate(63.61 849.09) scale(0.87 1)" font-size="5.14" text-anchor="middle" fill="#2fa39e" stroke="#2fa39e" stroke-width="0.18">6(0)</text>
<text transform="translate(75.12 841.29) scale(0.87 1)" font-size="5.14" text-anchor="middle" fill="#861d23" stroke="#861d23" stroke-width="0.18">20(0)</text>
<text transform="translate(75.12 849.09) scale(0.87 1)" font-size="5.14" text-anchor="middle" fill="#2fa39e" stroke="#2fa39e" stroke-width="0.18">6(0)</text>
<text transform="translate(86.62 841.29) scale(0.87 1)" font-size="5.14" text-anchor="middle" fill="#861d23" stroke="#861d23" stroke-width="0.18">20(0)</text>
<text transform="translate(86.62 849.09) scale(0.87 1)" font-size="5.14" text-anchor="middle" fill="#2fa39e" stroke="#2fa39e" stroke-width="0.18">6(0)</text>
<text transform="translate(98.13 841.29) scale(0.87 1)" font-size="5.14" text-anchor="middle" fill="#861d23" stroke="#861d23" stroke-width="0.18">20(0)</text>
<text transform="translate(98.13 849.09) scale(0.87 1)" font-size="5.14" text-anchor="middle" fill="#2fa39e" stroke="#2fa39e" stroke-width="0.18">6(0)</text>
<text transform="translate(109.64 841.29) scale(0.87 1)" font-size="5.14" text-anchor="middle" fill="#861d23" stroke="#861d23" stroke-width="0.18">20(0)</text>
<text transform="translate(109.64 849.09) scale(0.87 1)" font-size="5.14" text-anchor="middle" fill="#2fa39e" stroke="#2fa39e" stroke-width="0.18">6(0)</text>
<text transform="translate(121.15 841.29) scale(0.87 1)" font-size="5.14" text-anchor="middle" fill="#861d23" stroke="#861d23" stroke-width="0.18">19(0)</text>
<text transform="translate(121.15 849.09) scale(0.87 1)" font-size="5.14" text-anchor="middle" fill="#2fa39e" stroke="#2fa39e" stroke-width="0.18">6(0)</text>
<text transform="translate(132.66 841.29) scale(0.87 1)" font-size="5.14" text-anchor="middle" fill="#861d23" stroke="#861d23" stroke-width="0.18">19(0)</text>
<text transform="translate(132.66 849.09) scale(0.87 1)" font-size="5.14" text-anchor="middle" fill="#2fa39e" stroke="#2fa39e" stroke-width="0.18">6(0)</text>
<text transform="translate(144.16 841.29) scale(0.87 1)" font-size="5.14" text-anchor="middle" fill="#861d23" stroke="#861d23" stroke-width="0.18">19(0)</text>
<text transform="translate(144.16 849.09) scale(0.87 1)" font-size="5.14" text-anchor="middle" fill="#2fa39e" stroke="#2fa39e" stroke-width="0.18">6(0)</text>
<text transform="translate(155.67 841.29) scale(0.87 1)" font-size="5.14" text-anchor="middle" fill="#861d23" stroke="#861d23" stroke-width="0.18">19(0)</text>
<text transform="translate(155.67 849.09) scale(0.87 1)" font-size="5.14" text-anchor="middle" fill="#2fa39e" stroke="#2fa39e" stroke-width="0.18">6(0)</text>
<text transform="translate(167.18 841.29) scale(0.87 1)" font-size="5.14" text-anchor="middle" fill="#861d23" stroke="#861d23" stroke-width="0.18">19(0)</text>
<text transform="translate(167.18 849.09) scale(0.87 1)" font-size="5.14" text-anchor="middle" fill="#2fa39e" stroke="#2fa39e" stroke-width="0.18">6(0)</text>
<text transform="translate(178.69 841.29) scale(0.87 1)" font-size="5.14" text-anchor="middle" fill="#861d23" stroke="#861d23" stroke-width="0.18">19(0)</text>
<text transform="translate(178.69 849.09) scale(0.87 1)" font-size="5.14" text-anchor="middle" fill="#2fa39e" stroke="#2fa39e" stroke-width="0.18">6(0)</text>
<text transform="translate(190.2 841.29) scale(0.87 1)" font-size="5.14" text-anchor="middle" fill="#861d23" stroke="#861d23" stroke-width="0.18">19(0)</text>
<text transform="translate(190.2 849.09) scale(0.87 1)" font-size="5.14" text-anchor="middle" fill="#2fa39e" stroke="#2fa39e" stroke-width="0.18">6(0)</text>
<text transform="translate(201.7 841.29) scale(0.87 1)" font-size="5.14" text-anchor="middle" fill="#861d23" stroke="#861d23" stroke-width="0.18">19(0)</text>
<text transform="translate(201.7 849.09) scale(0.87 1)" font-size="5.14" text-anchor="middle" fill="#2fa39e" stroke="#2fa39e" stroke-width="0.18">6(0)</text>
<text transform="translate(213.21 841.29) scale(0.87 1)" font-size="5.14" text-anchor="middle" fill="#861d23" stroke="#861d23" stroke-width="0.18">19(0)</text>
<text transform="translate(213.21 849.09) scale(0.87 1)" font-size="5.14" text-anchor="middle" fill="#2fa39e" stroke="#2fa39e" stroke-width="0.18">6(0)</text>
<text transform="translate(224.72 841.29) scale(0.87 1)" font-size="5.14" text-anchor="middle" fill="#861d23" stroke="#861d23" stroke-width="0.18">19(0)</text>
<text transform="translate(224.72 849.09) scale(0.87 1)" font-size="5.14" text-anchor="middle" fill="#2fa39e" stroke="#2fa39e" stroke-width="0.18">6(0)</text>
<text transform="translate(236.23 841.29) scale(0.87 1)" font-size="5.14" text-anchor="middle" fill="#861d23" stroke="#861d23" stroke-width="0.18">19(0)</text>
<text transform="translate(236.23 849.09) scale(0.87 1)" font-size="5.14" text-anchor="middle" fill="#2fa39e" stroke="#2fa39e" stroke-width="0.18">6(0)</text>
<text transform="translate(247.74 841.29) scale(0.87 1)" font-size="5.14" text-anchor="middle" fill="#861d23" stroke="#861d23" stroke-width="0.18">19(0)</text>
<text transform="translate(247.74 849.09) scale(0.87 1)" font-size="5.14" text-anchor="middle" fill="#2fa39e" stroke="#2fa39e" stroke-width="0.18">6(0)</text>
<text transform="translate(259.24 841.29) scale(0.87 1)" font-size="5.14" text-anchor="middle" fill="#861d23" stroke="#861d23" stroke-width="0.18">19(0)</text>
<text transform="translate(259.24 849.09) scale(0.87 1)" font-size="5.14" text-anchor="middle" fill="#2fa39e" stroke="#2fa39e" stroke-width="0.18">6(0)</text>
<text transform="translate(270.75 841.29) scale(0.87 1)" font-size="5.14" text-anchor="middle" fill="#861d23" stroke="#861d23" stroke-width="0.18">19(0)</text>
<text transform="translate(270.75 849.09) scale(0.87 1)" font-size="5.14" text-anchor="middle" fill="#2fa39e" stroke="#2fa39e" stroke-width="0.18">6(0)</text>
<text transform="translate(282.26 841.29) scale(0.87 1)" font-size="5.14" text-anchor="middle" fill="#861d23" stroke="#861d23" stroke-width="0.18">18(1)</text>
<text transform="translate(282.26 849.09) scale(0.87 1)" font-size="5.14" text-anchor="middle" fill="#2fa39e" stroke="#2fa39e" stroke-width="0.18">6(0)</text>
<text transform="translate(293.77 841.29) scale(0.87 1)" font-size="5.14" text-anchor="middle" fill="#861d23" stroke="#861d23" stroke-width="0.18">7(12)</text>
<text transform="translate(293.77 849.09) scale(0.87 1)" font-size="5.14" text-anchor="middle" fill="#2fa39e" stroke="#2fa39e" stroke-width="0.18">2(4)</text>
<text transform="translate(305.28 841.29) scale(0.87 1)" font-size="5.14" text-anchor="middle" fill="#861d23" stroke="#861d23" stroke-width="0.18">6(13)</text>
<text transform="translate(305.28 849.09) scale(0.87 1)" font-size="5.14" text-anchor="middle" fill="#2fa39e" stroke="#2fa39e" stroke-width="0.18">1(5)</text>
<text transform="translate(316.78 841.29) scale(0.87 1)" font-size="5.14" text-anchor="middle" fill="#861d23" stroke="#861d23" stroke-width="0.18">4(15)</text>
<text transform="translate(316.78 849.09) scale(0.87 1)" font-size="5.14" text-anchor="middle" fill="#2fa39e" stroke="#2fa39e" stroke-width="0.18">1(5)</text>
<text transform="translate(328.29 841.29) scale(0.87 1)" font-size="5.14" text-anchor="middle" fill="#861d23" stroke="#861d23" stroke-width="0.18">3(16)</text>
<text transform="translate(328.29 849.09) scale(0.87 1)" font-size="5.14" text-anchor="middle" fill="#2fa39e" stroke="#2fa39e" stroke-width="0.18">1(5)</text>
<text transform="translate(339.8 841.29) scale(0.87 1)" font-size="5.14" text-anchor="middle" fill="#861d23" stroke="#861d23" stroke-width="0.18">0(19)</text>
<text transform="translate(339.8 849.09) scale(0.87 1)" font-size="5.14" text-anchor="middle" fill="#2fa39e" stroke="#2fa39e" stroke-width="0.18">0(6)</text>
</svg>
</body></html>
